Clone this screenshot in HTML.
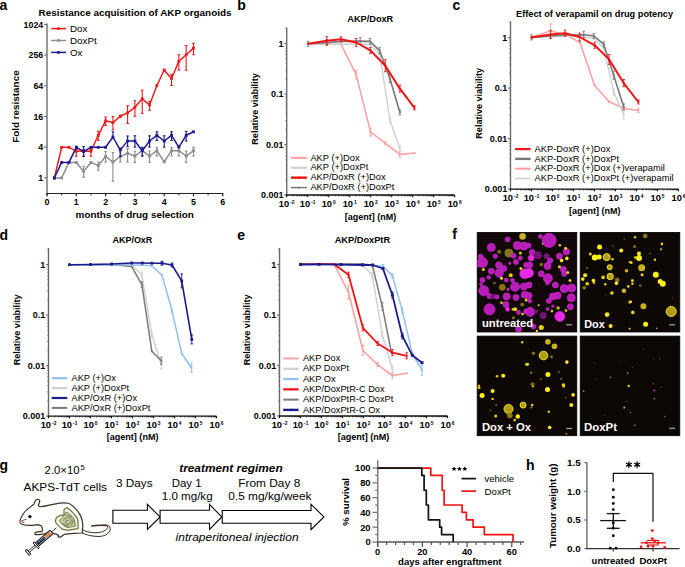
<!DOCTYPE html>
<html><head><meta charset="utf-8"><style>
html,body{margin:0;padding:0;background:#fff;width:685px;height:567px;overflow:hidden}
svg{display:block}
</style></head><body>
<svg width="685" height="567" viewBox="0 0 685 567">
<text x="-0.6" y="10.2" font-family="Liberation Sans, sans-serif" font-size="14" font-weight="bold" font-style="normal" text-anchor="start" fill="#000" >a</text>
<text x="38.5" y="15.8" font-family="Liberation Sans, sans-serif" font-size="8.3" font-weight="bold" font-style="normal" text-anchor="start" fill="#000" textLength="193" lengthAdjust="spacingAndGlyphs" >Resistance acquisition of AKP organoids</text>
<line x1="47" y1="23.5" x2="47" y2="195.8" stroke="#6e6e6e" stroke-width="1.4" />
<line x1="46.3" y1="193.5" x2="223.3" y2="193.5" stroke="#222" stroke-width="1.2" />
<line x1="44.2" y1="24.4" x2="47" y2="24.4" stroke="#6e6e6e" stroke-width="1.2" />
<text x="43.2" y="27.5" font-family="Liberation Sans, sans-serif" font-size="8.8" font-weight="bold" font-style="normal" text-anchor="end" fill="#000" >1024</text>
<line x1="44.2" y1="55.08" x2="47" y2="55.08" stroke="#6e6e6e" stroke-width="1.2" />
<text x="43.2" y="58.18" font-family="Liberation Sans, sans-serif" font-size="8.8" font-weight="bold" font-style="normal" text-anchor="end" fill="#000" >256</text>
<line x1="44.2" y1="85.76" x2="47" y2="85.76" stroke="#6e6e6e" stroke-width="1.2" />
<text x="43.2" y="88.86" font-family="Liberation Sans, sans-serif" font-size="8.8" font-weight="bold" font-style="normal" text-anchor="end" fill="#000" >64</text>
<line x1="44.2" y1="116.44" x2="47" y2="116.44" stroke="#6e6e6e" stroke-width="1.2" />
<text x="43.2" y="119.54" font-family="Liberation Sans, sans-serif" font-size="8.8" font-weight="bold" font-style="normal" text-anchor="end" fill="#000" >16</text>
<line x1="44.2" y1="147.12" x2="47" y2="147.12" stroke="#6e6e6e" stroke-width="1.2" />
<text x="43.2" y="150.22" font-family="Liberation Sans, sans-serif" font-size="8.8" font-weight="bold" font-style="normal" text-anchor="end" fill="#000" >4</text>
<line x1="44.2" y1="177.8" x2="47" y2="177.8" stroke="#6e6e6e" stroke-width="1.2" />
<text x="43.2" y="180.9" font-family="Liberation Sans, sans-serif" font-size="8.8" font-weight="bold" font-style="normal" text-anchor="end" fill="#000" >1</text>
<line x1="47" y1="193.5" x2="47" y2="196.3" stroke="#222" stroke-width="1.2" />
<text x="47" y="204.5" font-family="Liberation Sans, sans-serif" font-size="8.9" font-weight="bold" font-style="normal" text-anchor="middle" fill="#000" >0</text>
<line x1="61.65" y1="193.5" x2="61.65" y2="195.3" stroke="#222" stroke-width="1" />
<line x1="76.3" y1="193.5" x2="76.3" y2="196.3" stroke="#222" stroke-width="1.2" />
<text x="76.3" y="204.5" font-family="Liberation Sans, sans-serif" font-size="8.9" font-weight="bold" font-style="normal" text-anchor="middle" fill="#000" >1</text>
<line x1="90.95" y1="193.5" x2="90.95" y2="195.3" stroke="#222" stroke-width="1" />
<line x1="105.6" y1="193.5" x2="105.6" y2="196.3" stroke="#222" stroke-width="1.2" />
<text x="105.6" y="204.5" font-family="Liberation Sans, sans-serif" font-size="8.9" font-weight="bold" font-style="normal" text-anchor="middle" fill="#000" >2</text>
<line x1="120.25" y1="193.5" x2="120.25" y2="195.3" stroke="#222" stroke-width="1" />
<line x1="134.9" y1="193.5" x2="134.9" y2="196.3" stroke="#222" stroke-width="1.2" />
<text x="134.9" y="204.5" font-family="Liberation Sans, sans-serif" font-size="8.9" font-weight="bold" font-style="normal" text-anchor="middle" fill="#000" >3</text>
<line x1="149.55" y1="193.5" x2="149.55" y2="195.3" stroke="#222" stroke-width="1" />
<line x1="164.2" y1="193.5" x2="164.2" y2="196.3" stroke="#222" stroke-width="1.2" />
<text x="164.2" y="204.5" font-family="Liberation Sans, sans-serif" font-size="8.9" font-weight="bold" font-style="normal" text-anchor="middle" fill="#000" >4</text>
<line x1="178.85" y1="193.5" x2="178.85" y2="195.3" stroke="#222" stroke-width="1" />
<line x1="193.5" y1="193.5" x2="193.5" y2="196.3" stroke="#222" stroke-width="1.2" />
<text x="193.5" y="204.5" font-family="Liberation Sans, sans-serif" font-size="8.9" font-weight="bold" font-style="normal" text-anchor="middle" fill="#000" >5</text>
<line x1="208.15" y1="193.5" x2="208.15" y2="195.3" stroke="#222" stroke-width="1" />
<line x1="222.8" y1="193.5" x2="222.8" y2="196.3" stroke="#222" stroke-width="1.2" />
<text x="222.8" y="204.5" font-family="Liberation Sans, sans-serif" font-size="8.9" font-weight="bold" font-style="normal" text-anchor="middle" fill="#000" >6</text>
<text x="134.7" y="217.6" font-family="Liberation Sans, sans-serif" font-size="9.3" font-weight="bold" font-style="normal" text-anchor="middle" fill="#000" textLength="118.2" lengthAdjust="spacingAndGlyphs" >months of drug selection</text>
<text x="0" y="0" font-family="Liberation Sans, sans-serif" font-size="9.3" font-weight="bold" font-style="normal" text-anchor="middle" fill="#000" textLength="72.5" lengthAdjust="spacingAndGlyphs" transform="translate(19.3,106.6) rotate(-90)">Fold resistance</text>
<polyline points="54.33,178 61.65,178 68.97,162.4 76.3,162.4 83.62,171.3 90.95,162.4 98.28,165.6 105.6,156.5 112.92,162.1 120.25,156.5 127.58,153.4 134.9,156 142.23,150.7 149.55,156 156.88,150.7 164.2,161.9 171.53,150.7 178.85,150.7 186.18,156 193.5,150.7" fill="none" stroke="#8c8c8c" stroke-width="1.5" stroke-linejoin="round" />
<rect x="52.93" y="176.6" width="2.8" height="2.8" fill="#8c8c8c" />
<rect x="60.25" y="176.6" width="2.8" height="2.8" fill="#8c8c8c" />
<rect x="67.57" y="161" width="2.8" height="2.8" fill="#8c8c8c" />
<rect x="74.9" y="161" width="2.8" height="2.8" fill="#8c8c8c" />
<line x1="83.62" y1="166.3" x2="83.62" y2="177.3" stroke="#8c8c8c" stroke-width="1.1" />
<line x1="82.33" y1="166.3" x2="84.92" y2="166.3" stroke="#8c8c8c" stroke-width="1.1" />
<line x1="82.33" y1="177.3" x2="84.92" y2="177.3" stroke="#8c8c8c" stroke-width="1.1" />
<rect x="82.22" y="169.9" width="2.8" height="2.8" fill="#8c8c8c" />
<rect x="89.55" y="161" width="2.8" height="2.8" fill="#8c8c8c" />
<line x1="98.28" y1="162.1" x2="98.28" y2="170.1" stroke="#8c8c8c" stroke-width="1.1" />
<line x1="96.98" y1="162.1" x2="99.58" y2="162.1" stroke="#8c8c8c" stroke-width="1.1" />
<line x1="96.98" y1="170.1" x2="99.58" y2="170.1" stroke="#8c8c8c" stroke-width="1.1" />
<rect x="96.88" y="164.2" width="2.8" height="2.8" fill="#8c8c8c" />
<line x1="105.6" y1="151.5" x2="105.6" y2="162.1" stroke="#8c8c8c" stroke-width="1.1" />
<line x1="104.3" y1="151.5" x2="106.9" y2="151.5" stroke="#8c8c8c" stroke-width="1.1" />
<line x1="104.3" y1="162.1" x2="106.9" y2="162.1" stroke="#8c8c8c" stroke-width="1.1" />
<rect x="104.2" y="155.1" width="2.8" height="2.8" fill="#8c8c8c" />
<line x1="112.92" y1="152.5" x2="112.92" y2="181.1" stroke="#8c8c8c" stroke-width="1.1" />
<line x1="111.62" y1="152.5" x2="114.22" y2="152.5" stroke="#8c8c8c" stroke-width="1.1" />
<line x1="111.62" y1="181.1" x2="114.22" y2="181.1" stroke="#8c8c8c" stroke-width="1.1" />
<rect x="111.52" y="160.7" width="2.8" height="2.8" fill="#8c8c8c" />
<line x1="120.25" y1="152.9" x2="120.25" y2="162.1" stroke="#8c8c8c" stroke-width="1.1" />
<line x1="118.95" y1="152.9" x2="121.55" y2="152.9" stroke="#8c8c8c" stroke-width="1.1" />
<line x1="118.95" y1="162.1" x2="121.55" y2="162.1" stroke="#8c8c8c" stroke-width="1.1" />
<rect x="118.85" y="155.1" width="2.8" height="2.8" fill="#8c8c8c" />
<line x1="127.58" y1="148.7" x2="127.58" y2="162.1" stroke="#8c8c8c" stroke-width="1.1" />
<line x1="126.28" y1="148.7" x2="128.88" y2="148.7" stroke="#8c8c8c" stroke-width="1.1" />
<line x1="126.28" y1="162.1" x2="128.88" y2="162.1" stroke="#8c8c8c" stroke-width="1.1" />
<rect x="126.17" y="152" width="2.8" height="2.8" fill="#8c8c8c" />
<line x1="134.9" y1="151.2" x2="134.9" y2="162.4" stroke="#8c8c8c" stroke-width="1.1" />
<line x1="133.6" y1="151.2" x2="136.2" y2="151.2" stroke="#8c8c8c" stroke-width="1.1" />
<line x1="133.6" y1="162.4" x2="136.2" y2="162.4" stroke="#8c8c8c" stroke-width="1.1" />
<rect x="133.5" y="154.6" width="2.8" height="2.8" fill="#8c8c8c" />
<line x1="142.23" y1="147.4" x2="142.23" y2="156" stroke="#8c8c8c" stroke-width="1.1" />
<line x1="140.93" y1="147.4" x2="143.53" y2="147.4" stroke="#8c8c8c" stroke-width="1.1" />
<line x1="140.93" y1="156" x2="143.53" y2="156" stroke="#8c8c8c" stroke-width="1.1" />
<rect x="140.83" y="149.3" width="2.8" height="2.8" fill="#8c8c8c" />
<line x1="149.55" y1="151.2" x2="149.55" y2="162.4" stroke="#8c8c8c" stroke-width="1.1" />
<line x1="148.25" y1="151.2" x2="150.85" y2="151.2" stroke="#8c8c8c" stroke-width="1.1" />
<line x1="148.25" y1="162.4" x2="150.85" y2="162.4" stroke="#8c8c8c" stroke-width="1.1" />
<rect x="148.15" y="154.6" width="2.8" height="2.8" fill="#8c8c8c" />
<line x1="156.88" y1="147.4" x2="156.88" y2="156" stroke="#8c8c8c" stroke-width="1.1" />
<line x1="155.57" y1="147.4" x2="158.18" y2="147.4" stroke="#8c8c8c" stroke-width="1.1" />
<line x1="155.57" y1="156" x2="158.18" y2="156" stroke="#8c8c8c" stroke-width="1.1" />
<rect x="155.47" y="149.3" width="2.8" height="2.8" fill="#8c8c8c" />
<rect x="162.8" y="160.5" width="2.8" height="2.8" fill="#8c8c8c" />
<line x1="171.53" y1="147.4" x2="171.53" y2="156" stroke="#8c8c8c" stroke-width="1.1" />
<line x1="170.22" y1="147.4" x2="172.83" y2="147.4" stroke="#8c8c8c" stroke-width="1.1" />
<line x1="170.22" y1="156" x2="172.83" y2="156" stroke="#8c8c8c" stroke-width="1.1" />
<rect x="170.12" y="149.3" width="2.8" height="2.8" fill="#8c8c8c" />
<line x1="178.85" y1="147.4" x2="178.85" y2="156" stroke="#8c8c8c" stroke-width="1.1" />
<line x1="177.55" y1="147.4" x2="180.15" y2="147.4" stroke="#8c8c8c" stroke-width="1.1" />
<line x1="177.55" y1="156" x2="180.15" y2="156" stroke="#8c8c8c" stroke-width="1.1" />
<rect x="177.45" y="149.3" width="2.8" height="2.8" fill="#8c8c8c" />
<line x1="186.18" y1="151.2" x2="186.18" y2="162.4" stroke="#8c8c8c" stroke-width="1.1" />
<line x1="184.88" y1="151.2" x2="187.48" y2="151.2" stroke="#8c8c8c" stroke-width="1.1" />
<line x1="184.88" y1="162.4" x2="187.48" y2="162.4" stroke="#8c8c8c" stroke-width="1.1" />
<rect x="184.78" y="154.6" width="2.8" height="2.8" fill="#8c8c8c" />
<line x1="193.5" y1="147.4" x2="193.5" y2="156" stroke="#8c8c8c" stroke-width="1.1" />
<line x1="192.2" y1="147.4" x2="194.8" y2="147.4" stroke="#8c8c8c" stroke-width="1.1" />
<line x1="192.2" y1="156" x2="194.8" y2="156" stroke="#8c8c8c" stroke-width="1.1" />
<rect x="192.1" y="149.3" width="2.8" height="2.8" fill="#8c8c8c" />
<polyline points="54.33,178 61.65,147.3 68.97,147.3 76.3,151.2 83.62,151.2 90.95,151.2 98.28,135.3 105.6,120.8 112.92,122.6 120.25,116.2 127.58,112.8 134.9,107.3 142.23,98.8 149.55,104.9 156.88,85.5 164.2,70.2 171.53,78.5 178.85,61.4 186.18,54.7 193.5,48.1" fill="none" stroke="#ee1c1c" stroke-width="1.5" stroke-linejoin="round" />
<rect x="52.93" y="176.6" width="2.8" height="2.8" fill="#ee1c1c" />
<rect x="60.25" y="145.9" width="2.8" height="2.8" fill="#ee1c1c" />
<rect x="67.57" y="145.9" width="2.8" height="2.8" fill="#ee1c1c" />
<line x1="76.3" y1="149.5" x2="76.3" y2="156.2" stroke="#ee1c1c" stroke-width="1.1" />
<line x1="75" y1="149.5" x2="77.6" y2="149.5" stroke="#ee1c1c" stroke-width="1.1" />
<line x1="75" y1="156.2" x2="77.6" y2="156.2" stroke="#ee1c1c" stroke-width="1.1" />
<rect x="74.9" y="149.8" width="2.8" height="2.8" fill="#ee1c1c" />
<line x1="83.62" y1="149.5" x2="83.62" y2="156.2" stroke="#ee1c1c" stroke-width="1.1" />
<line x1="82.33" y1="149.5" x2="84.92" y2="149.5" stroke="#ee1c1c" stroke-width="1.1" />
<line x1="82.33" y1="156.2" x2="84.92" y2="156.2" stroke="#ee1c1c" stroke-width="1.1" />
<rect x="82.22" y="149.8" width="2.8" height="2.8" fill="#ee1c1c" />
<line x1="90.95" y1="149.5" x2="90.95" y2="156.2" stroke="#ee1c1c" stroke-width="1.1" />
<line x1="89.65" y1="149.5" x2="92.25" y2="149.5" stroke="#ee1c1c" stroke-width="1.1" />
<line x1="89.65" y1="156.2" x2="92.25" y2="156.2" stroke="#ee1c1c" stroke-width="1.1" />
<rect x="89.55" y="149.8" width="2.8" height="2.8" fill="#ee1c1c" />
<line x1="98.28" y1="131.3" x2="98.28" y2="140.3" stroke="#ee1c1c" stroke-width="1.1" />
<line x1="96.98" y1="131.3" x2="99.58" y2="131.3" stroke="#ee1c1c" stroke-width="1.1" />
<line x1="96.98" y1="140.3" x2="99.58" y2="140.3" stroke="#ee1c1c" stroke-width="1.1" />
<rect x="96.88" y="133.9" width="2.8" height="2.8" fill="#ee1c1c" />
<line x1="105.6" y1="117" x2="105.6" y2="125.4" stroke="#ee1c1c" stroke-width="1.1" />
<line x1="104.3" y1="117" x2="106.9" y2="117" stroke="#ee1c1c" stroke-width="1.1" />
<line x1="104.3" y1="125.4" x2="106.9" y2="125.4" stroke="#ee1c1c" stroke-width="1.1" />
<rect x="104.2" y="119.4" width="2.8" height="2.8" fill="#ee1c1c" />
<line x1="112.92" y1="116.6" x2="112.92" y2="129.6" stroke="#ee1c1c" stroke-width="1.1" />
<line x1="111.62" y1="116.6" x2="114.22" y2="116.6" stroke="#ee1c1c" stroke-width="1.1" />
<line x1="111.62" y1="129.6" x2="114.22" y2="129.6" stroke="#ee1c1c" stroke-width="1.1" />
<rect x="111.52" y="121.2" width="2.8" height="2.8" fill="#ee1c1c" />
<line x1="120.25" y1="115.2" x2="120.25" y2="117.2" stroke="#ee1c1c" stroke-width="1.1" />
<line x1="118.95" y1="115.2" x2="121.55" y2="115.2" stroke="#ee1c1c" stroke-width="1.1" />
<line x1="118.95" y1="117.2" x2="121.55" y2="117.2" stroke="#ee1c1c" stroke-width="1.1" />
<rect x="118.85" y="114.8" width="2.8" height="2.8" fill="#ee1c1c" />
<line x1="127.58" y1="105.7" x2="127.58" y2="123.4" stroke="#ee1c1c" stroke-width="1.1" />
<line x1="126.28" y1="105.7" x2="128.88" y2="105.7" stroke="#ee1c1c" stroke-width="1.1" />
<line x1="126.28" y1="123.4" x2="128.88" y2="123.4" stroke="#ee1c1c" stroke-width="1.1" />
<rect x="126.17" y="111.4" width="2.8" height="2.8" fill="#ee1c1c" />
<line x1="134.9" y1="100.8" x2="134.9" y2="116.3" stroke="#ee1c1c" stroke-width="1.1" />
<line x1="133.6" y1="100.8" x2="136.2" y2="100.8" stroke="#ee1c1c" stroke-width="1.1" />
<line x1="133.6" y1="116.3" x2="136.2" y2="116.3" stroke="#ee1c1c" stroke-width="1.1" />
<rect x="133.5" y="105.9" width="2.8" height="2.8" fill="#ee1c1c" />
<line x1="142.23" y1="90.3" x2="142.23" y2="113.3" stroke="#ee1c1c" stroke-width="1.1" />
<line x1="140.93" y1="90.3" x2="143.53" y2="90.3" stroke="#ee1c1c" stroke-width="1.1" />
<line x1="140.93" y1="113.3" x2="143.53" y2="113.3" stroke="#ee1c1c" stroke-width="1.1" />
<rect x="140.83" y="97.4" width="2.8" height="2.8" fill="#ee1c1c" />
<line x1="149.55" y1="101.4" x2="149.55" y2="110.3" stroke="#ee1c1c" stroke-width="1.1" />
<line x1="148.25" y1="101.4" x2="150.85" y2="101.4" stroke="#ee1c1c" stroke-width="1.1" />
<line x1="148.25" y1="110.3" x2="150.85" y2="110.3" stroke="#ee1c1c" stroke-width="1.1" />
<rect x="148.15" y="103.5" width="2.8" height="2.8" fill="#ee1c1c" />
<rect x="155.47" y="84.1" width="2.8" height="2.8" fill="#ee1c1c" />
<line x1="164.2" y1="69.2" x2="164.2" y2="71.2" stroke="#ee1c1c" stroke-width="1.1" />
<line x1="162.9" y1="69.2" x2="165.5" y2="69.2" stroke="#ee1c1c" stroke-width="1.1" />
<line x1="162.9" y1="71.2" x2="165.5" y2="71.2" stroke="#ee1c1c" stroke-width="1.1" />
<rect x="162.8" y="68.8" width="2.8" height="2.8" fill="#ee1c1c" />
<line x1="171.53" y1="74.4" x2="171.53" y2="85.5" stroke="#ee1c1c" stroke-width="1.1" />
<line x1="170.22" y1="74.4" x2="172.83" y2="74.4" stroke="#ee1c1c" stroke-width="1.1" />
<line x1="170.22" y1="85.5" x2="172.83" y2="85.5" stroke="#ee1c1c" stroke-width="1.1" />
<rect x="170.12" y="77.1" width="2.8" height="2.8" fill="#ee1c1c" />
<line x1="178.85" y1="54.7" x2="178.85" y2="70.2" stroke="#ee1c1c" stroke-width="1.1" />
<line x1="177.55" y1="54.7" x2="180.15" y2="54.7" stroke="#ee1c1c" stroke-width="1.1" />
<line x1="177.55" y1="70.2" x2="180.15" y2="70.2" stroke="#ee1c1c" stroke-width="1.1" />
<rect x="177.45" y="60" width="2.8" height="2.8" fill="#ee1c1c" />
<line x1="186.18" y1="45.5" x2="186.18" y2="70.2" stroke="#ee1c1c" stroke-width="1.1" />
<line x1="184.88" y1="45.5" x2="187.48" y2="45.5" stroke="#ee1c1c" stroke-width="1.1" />
<line x1="184.88" y1="70.2" x2="187.48" y2="70.2" stroke="#ee1c1c" stroke-width="1.1" />
<rect x="184.78" y="53.3" width="2.8" height="2.8" fill="#ee1c1c" />
<line x1="193.5" y1="43.2" x2="193.5" y2="54.7" stroke="#ee1c1c" stroke-width="1.1" />
<line x1="192.2" y1="43.2" x2="194.8" y2="43.2" stroke="#ee1c1c" stroke-width="1.1" />
<line x1="192.2" y1="54.7" x2="194.8" y2="54.7" stroke="#ee1c1c" stroke-width="1.1" />
<rect x="192.1" y="46.7" width="2.8" height="2.8" fill="#ee1c1c" />
<polyline points="54.33,178 61.65,162.4 68.97,162.4 76.3,147.3 83.62,151.5 90.95,147.3 98.28,147.3 105.6,147.3 112.92,137 120.25,150.1 127.58,140.9 134.9,141 142.23,150.7 149.55,141 156.88,135.3 164.2,141 171.53,135.3 178.85,147.1 186.18,135.3 193.5,131.8" fill="none" stroke="#1b1b8e" stroke-width="1.5" stroke-linejoin="round" />
<rect x="52.93" y="176.6" width="2.8" height="2.8" fill="#1b1b8e" />
<rect x="60.25" y="161" width="2.8" height="2.8" fill="#1b1b8e" />
<rect x="67.57" y="161" width="2.8" height="2.8" fill="#1b1b8e" />
<line x1="76.3" y1="146.3" x2="76.3" y2="148.3" stroke="#1b1b8e" stroke-width="1.1" />
<line x1="75" y1="146.3" x2="77.6" y2="146.3" stroke="#1b1b8e" stroke-width="1.1" />
<line x1="75" y1="148.3" x2="77.6" y2="148.3" stroke="#1b1b8e" stroke-width="1.1" />
<rect x="74.9" y="145.9" width="2.8" height="2.8" fill="#1b1b8e" />
<line x1="83.62" y1="146.6" x2="83.62" y2="156.5" stroke="#1b1b8e" stroke-width="1.1" />
<line x1="82.33" y1="146.6" x2="84.92" y2="146.6" stroke="#1b1b8e" stroke-width="1.1" />
<line x1="82.33" y1="156.5" x2="84.92" y2="156.5" stroke="#1b1b8e" stroke-width="1.1" />
<rect x="82.22" y="150.1" width="2.8" height="2.8" fill="#1b1b8e" />
<rect x="89.55" y="145.9" width="2.8" height="2.8" fill="#1b1b8e" />
<rect x="96.88" y="145.9" width="2.8" height="2.8" fill="#1b1b8e" />
<rect x="104.2" y="145.9" width="2.8" height="2.8" fill="#1b1b8e" />
<line x1="112.92" y1="131.8" x2="112.92" y2="138.5" stroke="#1b1b8e" stroke-width="1.1" />
<line x1="111.62" y1="131.8" x2="114.22" y2="131.8" stroke="#1b1b8e" stroke-width="1.1" />
<line x1="111.62" y1="138.5" x2="114.22" y2="138.5" stroke="#1b1b8e" stroke-width="1.1" />
<rect x="111.52" y="135.6" width="2.8" height="2.8" fill="#1b1b8e" />
<line x1="120.25" y1="148.1" x2="120.25" y2="156.5" stroke="#1b1b8e" stroke-width="1.1" />
<line x1="118.95" y1="148.1" x2="121.55" y2="148.1" stroke="#1b1b8e" stroke-width="1.1" />
<line x1="118.95" y1="156.5" x2="121.55" y2="156.5" stroke="#1b1b8e" stroke-width="1.1" />
<rect x="118.85" y="148.7" width="2.8" height="2.8" fill="#1b1b8e" />
<line x1="127.58" y1="136" x2="127.58" y2="146.6" stroke="#1b1b8e" stroke-width="1.1" />
<line x1="126.28" y1="136" x2="128.88" y2="136" stroke="#1b1b8e" stroke-width="1.1" />
<line x1="126.28" y1="146.6" x2="128.88" y2="146.6" stroke="#1b1b8e" stroke-width="1.1" />
<rect x="126.17" y="139.5" width="2.8" height="2.8" fill="#1b1b8e" />
<line x1="134.9" y1="135.8" x2="134.9" y2="147.1" stroke="#1b1b8e" stroke-width="1.1" />
<line x1="133.6" y1="135.8" x2="136.2" y2="135.8" stroke="#1b1b8e" stroke-width="1.1" />
<line x1="133.6" y1="147.1" x2="136.2" y2="147.1" stroke="#1b1b8e" stroke-width="1.1" />
<rect x="133.5" y="139.6" width="2.8" height="2.8" fill="#1b1b8e" />
<line x1="142.23" y1="147.4" x2="142.23" y2="156" stroke="#1b1b8e" stroke-width="1.1" />
<line x1="140.93" y1="147.4" x2="143.53" y2="147.4" stroke="#1b1b8e" stroke-width="1.1" />
<line x1="140.93" y1="156" x2="143.53" y2="156" stroke="#1b1b8e" stroke-width="1.1" />
<rect x="140.83" y="149.3" width="2.8" height="2.8" fill="#1b1b8e" />
<line x1="149.55" y1="135.8" x2="149.55" y2="147.1" stroke="#1b1b8e" stroke-width="1.1" />
<line x1="148.25" y1="135.8" x2="150.85" y2="135.8" stroke="#1b1b8e" stroke-width="1.1" />
<line x1="148.25" y1="147.1" x2="150.85" y2="147.1" stroke="#1b1b8e" stroke-width="1.1" />
<rect x="148.15" y="139.6" width="2.8" height="2.8" fill="#1b1b8e" />
<line x1="156.88" y1="131.8" x2="156.88" y2="140.4" stroke="#1b1b8e" stroke-width="1.1" />
<line x1="155.57" y1="131.8" x2="158.18" y2="131.8" stroke="#1b1b8e" stroke-width="1.1" />
<line x1="155.57" y1="140.4" x2="158.18" y2="140.4" stroke="#1b1b8e" stroke-width="1.1" />
<rect x="155.47" y="133.9" width="2.8" height="2.8" fill="#1b1b8e" />
<line x1="164.2" y1="135.8" x2="164.2" y2="147.1" stroke="#1b1b8e" stroke-width="1.1" />
<line x1="162.9" y1="135.8" x2="165.5" y2="135.8" stroke="#1b1b8e" stroke-width="1.1" />
<line x1="162.9" y1="147.1" x2="165.5" y2="147.1" stroke="#1b1b8e" stroke-width="1.1" />
<rect x="162.8" y="139.6" width="2.8" height="2.8" fill="#1b1b8e" />
<line x1="171.53" y1="131.8" x2="171.53" y2="140.4" stroke="#1b1b8e" stroke-width="1.1" />
<line x1="170.22" y1="131.8" x2="172.83" y2="131.8" stroke="#1b1b8e" stroke-width="1.1" />
<line x1="170.22" y1="140.4" x2="172.83" y2="140.4" stroke="#1b1b8e" stroke-width="1.1" />
<rect x="170.12" y="133.9" width="2.8" height="2.8" fill="#1b1b8e" />
<rect x="177.45" y="145.7" width="2.8" height="2.8" fill="#1b1b8e" />
<line x1="186.18" y1="131.4" x2="186.18" y2="141" stroke="#1b1b8e" stroke-width="1.1" />
<line x1="184.88" y1="131.4" x2="187.48" y2="131.4" stroke="#1b1b8e" stroke-width="1.1" />
<line x1="184.88" y1="141" x2="187.48" y2="141" stroke="#1b1b8e" stroke-width="1.1" />
<rect x="184.78" y="133.9" width="2.8" height="2.8" fill="#1b1b8e" />
<rect x="192.1" y="130.4" width="2.8" height="2.8" fill="#1b1b8e" />
<line x1="51.2" y1="28.6" x2="66" y2="28.6" stroke="#ee1c1c" stroke-width="1.5" />
<rect x="57.2" y="27.3" width="2.6" height="2.6" fill="#ee1c1c" />
<text x="70" y="32.1" font-family="Liberation Sans, sans-serif" font-size="9.8" font-weight="normal" font-style="normal" text-anchor="start" fill="#000" >Dox</text>
<line x1="51.2" y1="40.5" x2="66" y2="40.5" stroke="#8c8c8c" stroke-width="1.5" />
<rect x="57.2" y="39.2" width="2.6" height="2.6" fill="#8c8c8c" />
<text x="70" y="44" font-family="Liberation Sans, sans-serif" font-size="9.8" font-weight="normal" font-style="normal" text-anchor="start" fill="#000" >DoxPt</text>
<line x1="51.2" y1="52.4" x2="66" y2="52.4" stroke="#1b1b8e" stroke-width="1.5" />
<rect x="57.2" y="51.1" width="2.6" height="2.6" fill="#1b1b8e" />
<text x="70" y="55.9" font-family="Liberation Sans, sans-serif" font-size="9.8" font-weight="normal" font-style="normal" text-anchor="start" fill="#000" >Ox</text>
<text x="237.2" y="10.3" font-family="Liberation Sans, sans-serif" font-size="14" font-weight="bold" font-style="normal" text-anchor="start" fill="#000" >b</text>
<text x="370.3" y="22.3" font-family="Liberation Sans, sans-serif" font-size="8.4" font-weight="bold" font-style="normal" text-anchor="middle" fill="#000" textLength="45.9" lengthAdjust="spacingAndGlyphs" >AKP/DoxR</text>
<line x1="286.7" y1="27.6" x2="286.7" y2="195.6" stroke="#6a6a6a" stroke-width="1.4" />
<line x1="284.3" y1="43.5" x2="286.7" y2="43.5" stroke="#6a6a6a" stroke-width="1.2" />
<text x="283.5" y="46.7" font-family="Liberation Sans, sans-serif" font-size="9" font-weight="bold" font-style="normal" text-anchor="end" fill="#000" >1</text>
<line x1="284.3" y1="94" x2="286.7" y2="94" stroke="#6a6a6a" stroke-width="1.2" />
<text x="283.5" y="97.2" font-family="Liberation Sans, sans-serif" font-size="9" font-weight="bold" font-style="normal" text-anchor="end" fill="#000" >0.1</text>
<line x1="284.3" y1="144.5" x2="286.7" y2="144.5" stroke="#6a6a6a" stroke-width="1.2" />
<text x="283.5" y="147.7" font-family="Liberation Sans, sans-serif" font-size="9" font-weight="bold" font-style="normal" text-anchor="end" fill="#000" >0.01</text>
<line x1="284.3" y1="195" x2="286.7" y2="195" stroke="#6a6a6a" stroke-width="1.2" />
<text x="283.5" y="198.2" font-family="Liberation Sans, sans-serif" font-size="9" font-weight="bold" font-style="normal" text-anchor="end" fill="#000" >0.001</text>
<line x1="285.4" y1="28.3" x2="286.7" y2="28.3" stroke="#6a6a6a" stroke-width="0.8" />
<line x1="285.4" y1="78.8" x2="286.7" y2="78.8" stroke="#6a6a6a" stroke-width="0.8" />
<line x1="285.4" y1="69.91" x2="286.7" y2="69.91" stroke="#6a6a6a" stroke-width="0.8" />
<line x1="285.4" y1="63.6" x2="286.7" y2="63.6" stroke="#6a6a6a" stroke-width="0.8" />
<line x1="285.4" y1="58.7" x2="286.7" y2="58.7" stroke="#6a6a6a" stroke-width="0.8" />
<line x1="285.4" y1="54.7" x2="286.7" y2="54.7" stroke="#6a6a6a" stroke-width="0.8" />
<line x1="285.4" y1="51.32" x2="286.7" y2="51.32" stroke="#6a6a6a" stroke-width="0.8" />
<line x1="285.4" y1="48.39" x2="286.7" y2="48.39" stroke="#6a6a6a" stroke-width="0.8" />
<line x1="285.4" y1="45.81" x2="286.7" y2="45.81" stroke="#6a6a6a" stroke-width="0.8" />
<line x1="285.4" y1="129.3" x2="286.7" y2="129.3" stroke="#6a6a6a" stroke-width="0.8" />
<line x1="285.4" y1="120.41" x2="286.7" y2="120.41" stroke="#6a6a6a" stroke-width="0.8" />
<line x1="285.4" y1="114.1" x2="286.7" y2="114.1" stroke="#6a6a6a" stroke-width="0.8" />
<line x1="285.4" y1="109.2" x2="286.7" y2="109.2" stroke="#6a6a6a" stroke-width="0.8" />
<line x1="285.4" y1="105.2" x2="286.7" y2="105.2" stroke="#6a6a6a" stroke-width="0.8" />
<line x1="285.4" y1="101.82" x2="286.7" y2="101.82" stroke="#6a6a6a" stroke-width="0.8" />
<line x1="285.4" y1="98.89" x2="286.7" y2="98.89" stroke="#6a6a6a" stroke-width="0.8" />
<line x1="285.4" y1="96.31" x2="286.7" y2="96.31" stroke="#6a6a6a" stroke-width="0.8" />
<line x1="285.4" y1="179.8" x2="286.7" y2="179.8" stroke="#6a6a6a" stroke-width="0.8" />
<line x1="285.4" y1="170.91" x2="286.7" y2="170.91" stroke="#6a6a6a" stroke-width="0.8" />
<line x1="285.4" y1="164.6" x2="286.7" y2="164.6" stroke="#6a6a6a" stroke-width="0.8" />
<line x1="285.4" y1="159.7" x2="286.7" y2="159.7" stroke="#6a6a6a" stroke-width="0.8" />
<line x1="285.4" y1="155.7" x2="286.7" y2="155.7" stroke="#6a6a6a" stroke-width="0.8" />
<line x1="285.4" y1="152.32" x2="286.7" y2="152.32" stroke="#6a6a6a" stroke-width="0.8" />
<line x1="285.4" y1="149.39" x2="286.7" y2="149.39" stroke="#6a6a6a" stroke-width="0.8" />
<line x1="285.4" y1="146.81" x2="286.7" y2="146.81" stroke="#6a6a6a" stroke-width="0.8" />
<line x1="286.1" y1="195" x2="454.7" y2="195" stroke="#111" stroke-width="1.3" />
<line x1="286.7" y1="195" x2="286.7" y2="197.2" stroke="#111" stroke-width="1.1" />
<text x="278.87" y="207.2" font-family="Liberation Sans, sans-serif" font-size="8.8" font-weight="bold" font-style="normal" text-anchor="start" fill="#000" textLength="10.4" lengthAdjust="spacingAndGlyphs" >10</text>
<text x="290.27" y="203.9" font-family="Liberation Sans, sans-serif" font-size="4.8" font-weight="bold" font-style="normal" text-anchor="start" fill="#000" >-2</text>
<line x1="293.02" y1="195" x2="293.02" y2="196.3" stroke="#111" stroke-width="0.8" />
<line x1="296.72" y1="195" x2="296.72" y2="196.3" stroke="#111" stroke-width="0.8" />
<line x1="299.34" y1="195" x2="299.34" y2="196.3" stroke="#111" stroke-width="0.8" />
<line x1="301.38" y1="195" x2="301.38" y2="196.3" stroke="#111" stroke-width="0.8" />
<line x1="303.04" y1="195" x2="303.04" y2="196.3" stroke="#111" stroke-width="0.8" />
<line x1="304.45" y1="195" x2="304.45" y2="196.3" stroke="#111" stroke-width="0.8" />
<line x1="305.66" y1="195" x2="305.66" y2="196.3" stroke="#111" stroke-width="0.8" />
<line x1="306.74" y1="195" x2="306.74" y2="196.3" stroke="#111" stroke-width="0.8" />
<line x1="307.7" y1="195" x2="307.7" y2="197.2" stroke="#111" stroke-width="1.1" />
<text x="299.87" y="207.2" font-family="Liberation Sans, sans-serif" font-size="8.8" font-weight="bold" font-style="normal" text-anchor="start" fill="#000" textLength="10.4" lengthAdjust="spacingAndGlyphs" >10</text>
<text x="311.27" y="203.9" font-family="Liberation Sans, sans-serif" font-size="4.8" font-weight="bold" font-style="normal" text-anchor="start" fill="#000" >-1</text>
<line x1="314.02" y1="195" x2="314.02" y2="196.3" stroke="#111" stroke-width="0.8" />
<line x1="317.72" y1="195" x2="317.72" y2="196.3" stroke="#111" stroke-width="0.8" />
<line x1="320.34" y1="195" x2="320.34" y2="196.3" stroke="#111" stroke-width="0.8" />
<line x1="322.38" y1="195" x2="322.38" y2="196.3" stroke="#111" stroke-width="0.8" />
<line x1="324.04" y1="195" x2="324.04" y2="196.3" stroke="#111" stroke-width="0.8" />
<line x1="325.45" y1="195" x2="325.45" y2="196.3" stroke="#111" stroke-width="0.8" />
<line x1="326.66" y1="195" x2="326.66" y2="196.3" stroke="#111" stroke-width="0.8" />
<line x1="327.74" y1="195" x2="327.74" y2="196.3" stroke="#111" stroke-width="0.8" />
<line x1="328.7" y1="195" x2="328.7" y2="197.2" stroke="#111" stroke-width="1.1" />
<text x="321.67" y="207.2" font-family="Liberation Sans, sans-serif" font-size="8.8" font-weight="bold" font-style="normal" text-anchor="start" fill="#000" textLength="10.4" lengthAdjust="spacingAndGlyphs" >10</text>
<text x="333.07" y="203.9" font-family="Liberation Sans, sans-serif" font-size="4.8" font-weight="bold" font-style="normal" text-anchor="start" fill="#000" >0</text>
<line x1="335.02" y1="195" x2="335.02" y2="196.3" stroke="#111" stroke-width="0.8" />
<line x1="338.72" y1="195" x2="338.72" y2="196.3" stroke="#111" stroke-width="0.8" />
<line x1="341.34" y1="195" x2="341.34" y2="196.3" stroke="#111" stroke-width="0.8" />
<line x1="343.38" y1="195" x2="343.38" y2="196.3" stroke="#111" stroke-width="0.8" />
<line x1="345.04" y1="195" x2="345.04" y2="196.3" stroke="#111" stroke-width="0.8" />
<line x1="346.45" y1="195" x2="346.45" y2="196.3" stroke="#111" stroke-width="0.8" />
<line x1="347.66" y1="195" x2="347.66" y2="196.3" stroke="#111" stroke-width="0.8" />
<line x1="348.74" y1="195" x2="348.74" y2="196.3" stroke="#111" stroke-width="0.8" />
<line x1="349.7" y1="195" x2="349.7" y2="197.2" stroke="#111" stroke-width="1.1" />
<text x="342.67" y="207.2" font-family="Liberation Sans, sans-serif" font-size="8.8" font-weight="bold" font-style="normal" text-anchor="start" fill="#000" textLength="10.4" lengthAdjust="spacingAndGlyphs" >10</text>
<text x="354.07" y="203.9" font-family="Liberation Sans, sans-serif" font-size="4.8" font-weight="bold" font-style="normal" text-anchor="start" fill="#000" >1</text>
<line x1="356.02" y1="195" x2="356.02" y2="196.3" stroke="#111" stroke-width="0.8" />
<line x1="359.72" y1="195" x2="359.72" y2="196.3" stroke="#111" stroke-width="0.8" />
<line x1="362.34" y1="195" x2="362.34" y2="196.3" stroke="#111" stroke-width="0.8" />
<line x1="364.38" y1="195" x2="364.38" y2="196.3" stroke="#111" stroke-width="0.8" />
<line x1="366.04" y1="195" x2="366.04" y2="196.3" stroke="#111" stroke-width="0.8" />
<line x1="367.45" y1="195" x2="367.45" y2="196.3" stroke="#111" stroke-width="0.8" />
<line x1="368.66" y1="195" x2="368.66" y2="196.3" stroke="#111" stroke-width="0.8" />
<line x1="369.74" y1="195" x2="369.74" y2="196.3" stroke="#111" stroke-width="0.8" />
<line x1="370.7" y1="195" x2="370.7" y2="197.2" stroke="#111" stroke-width="1.1" />
<text x="363.67" y="207.2" font-family="Liberation Sans, sans-serif" font-size="8.8" font-weight="bold" font-style="normal" text-anchor="start" fill="#000" textLength="10.4" lengthAdjust="spacingAndGlyphs" >10</text>
<text x="375.07" y="203.9" font-family="Liberation Sans, sans-serif" font-size="4.8" font-weight="bold" font-style="normal" text-anchor="start" fill="#000" >2</text>
<line x1="377.02" y1="195" x2="377.02" y2="196.3" stroke="#111" stroke-width="0.8" />
<line x1="380.72" y1="195" x2="380.72" y2="196.3" stroke="#111" stroke-width="0.8" />
<line x1="383.34" y1="195" x2="383.34" y2="196.3" stroke="#111" stroke-width="0.8" />
<line x1="385.38" y1="195" x2="385.38" y2="196.3" stroke="#111" stroke-width="0.8" />
<line x1="387.04" y1="195" x2="387.04" y2="196.3" stroke="#111" stroke-width="0.8" />
<line x1="388.45" y1="195" x2="388.45" y2="196.3" stroke="#111" stroke-width="0.8" />
<line x1="389.66" y1="195" x2="389.66" y2="196.3" stroke="#111" stroke-width="0.8" />
<line x1="390.74" y1="195" x2="390.74" y2="196.3" stroke="#111" stroke-width="0.8" />
<line x1="391.7" y1="195" x2="391.7" y2="197.2" stroke="#111" stroke-width="1.1" />
<text x="384.67" y="207.2" font-family="Liberation Sans, sans-serif" font-size="8.8" font-weight="bold" font-style="normal" text-anchor="start" fill="#000" textLength="10.4" lengthAdjust="spacingAndGlyphs" >10</text>
<text x="396.07" y="203.9" font-family="Liberation Sans, sans-serif" font-size="4.8" font-weight="bold" font-style="normal" text-anchor="start" fill="#000" >3</text>
<line x1="398.02" y1="195" x2="398.02" y2="196.3" stroke="#111" stroke-width="0.8" />
<line x1="401.72" y1="195" x2="401.72" y2="196.3" stroke="#111" stroke-width="0.8" />
<line x1="404.34" y1="195" x2="404.34" y2="196.3" stroke="#111" stroke-width="0.8" />
<line x1="406.38" y1="195" x2="406.38" y2="196.3" stroke="#111" stroke-width="0.8" />
<line x1="408.04" y1="195" x2="408.04" y2="196.3" stroke="#111" stroke-width="0.8" />
<line x1="409.45" y1="195" x2="409.45" y2="196.3" stroke="#111" stroke-width="0.8" />
<line x1="410.66" y1="195" x2="410.66" y2="196.3" stroke="#111" stroke-width="0.8" />
<line x1="411.74" y1="195" x2="411.74" y2="196.3" stroke="#111" stroke-width="0.8" />
<line x1="412.7" y1="195" x2="412.7" y2="197.2" stroke="#111" stroke-width="1.1" />
<text x="405.67" y="207.2" font-family="Liberation Sans, sans-serif" font-size="8.8" font-weight="bold" font-style="normal" text-anchor="start" fill="#000" textLength="10.4" lengthAdjust="spacingAndGlyphs" >10</text>
<text x="417.07" y="203.9" font-family="Liberation Sans, sans-serif" font-size="4.8" font-weight="bold" font-style="normal" text-anchor="start" fill="#000" >4</text>
<line x1="419.02" y1="195" x2="419.02" y2="196.3" stroke="#111" stroke-width="0.8" />
<line x1="422.72" y1="195" x2="422.72" y2="196.3" stroke="#111" stroke-width="0.8" />
<line x1="425.34" y1="195" x2="425.34" y2="196.3" stroke="#111" stroke-width="0.8" />
<line x1="427.38" y1="195" x2="427.38" y2="196.3" stroke="#111" stroke-width="0.8" />
<line x1="429.04" y1="195" x2="429.04" y2="196.3" stroke="#111" stroke-width="0.8" />
<line x1="430.45" y1="195" x2="430.45" y2="196.3" stroke="#111" stroke-width="0.8" />
<line x1="431.66" y1="195" x2="431.66" y2="196.3" stroke="#111" stroke-width="0.8" />
<line x1="432.74" y1="195" x2="432.74" y2="196.3" stroke="#111" stroke-width="0.8" />
<line x1="433.7" y1="195" x2="433.7" y2="197.2" stroke="#111" stroke-width="1.1" />
<text x="426.67" y="207.2" font-family="Liberation Sans, sans-serif" font-size="8.8" font-weight="bold" font-style="normal" text-anchor="start" fill="#000" textLength="10.4" lengthAdjust="spacingAndGlyphs" >10</text>
<text x="438.07" y="203.9" font-family="Liberation Sans, sans-serif" font-size="4.8" font-weight="bold" font-style="normal" text-anchor="start" fill="#000" >5</text>
<line x1="440.02" y1="195" x2="440.02" y2="196.3" stroke="#111" stroke-width="0.8" />
<line x1="443.72" y1="195" x2="443.72" y2="196.3" stroke="#111" stroke-width="0.8" />
<line x1="446.34" y1="195" x2="446.34" y2="196.3" stroke="#111" stroke-width="0.8" />
<line x1="448.38" y1="195" x2="448.38" y2="196.3" stroke="#111" stroke-width="0.8" />
<line x1="450.04" y1="195" x2="450.04" y2="196.3" stroke="#111" stroke-width="0.8" />
<line x1="451.45" y1="195" x2="451.45" y2="196.3" stroke="#111" stroke-width="0.8" />
<line x1="452.66" y1="195" x2="452.66" y2="196.3" stroke="#111" stroke-width="0.8" />
<line x1="453.74" y1="195" x2="453.74" y2="196.3" stroke="#111" stroke-width="0.8" />
<line x1="454.7" y1="195" x2="454.7" y2="197.2" stroke="#111" stroke-width="1.1" />
<text x="447.67" y="207.2" font-family="Liberation Sans, sans-serif" font-size="8.8" font-weight="bold" font-style="normal" text-anchor="start" fill="#000" textLength="10.4" lengthAdjust="spacingAndGlyphs" >10</text>
<text x="459.07" y="203.9" font-family="Liberation Sans, sans-serif" font-size="4.8" font-weight="bold" font-style="normal" text-anchor="start" fill="#000" >6</text>
<text x="370.5" y="220" font-family="Liberation Sans, sans-serif" font-size="8.4" font-weight="bold" font-style="normal" text-anchor="middle" fill="#000" textLength="51.5" lengthAdjust="spacingAndGlyphs" >[agent] (nM)</text>
<text x="0" y="0" font-family="Liberation Sans, sans-serif" font-size="9.3" font-weight="bold" font-style="normal" text-anchor="middle" fill="#000" textLength="71.5" lengthAdjust="spacingAndGlyphs" transform="translate(258.2,109) rotate(-90)">Relative viability</text>
<polyline points="308,43.8 326.8,44.2 340.9,44.2 356.2,74.6 370.5,132 385.5,143.3 399.8,154.4 414.5,152.9" fill="none" stroke="#ff9e9e" stroke-width="1.5" stroke-linejoin="round" />
<circle cx="308" cy="43.8" r="1.1" fill="#ff9e9e" />
<circle cx="326.8" cy="44.2" r="1.1" fill="#ff9e9e" />
<circle cx="340.9" cy="44.2" r="1.1" fill="#ff9e9e" />
<line x1="356.2" y1="70.1" x2="356.2" y2="79.1" stroke="#ff9e9e" stroke-width="0.9" />
<line x1="354.9" y1="70.1" x2="357.5" y2="70.1" stroke="#ff9e9e" stroke-width="0.9" />
<line x1="354.9" y1="79.1" x2="357.5" y2="79.1" stroke="#ff9e9e" stroke-width="0.9" />
<circle cx="356.2" cy="74.6" r="1.1" fill="#ff9e9e" />
<line x1="370.5" y1="128" x2="370.5" y2="136" stroke="#ff9e9e" stroke-width="0.9" />
<line x1="369.2" y1="128" x2="371.8" y2="128" stroke="#ff9e9e" stroke-width="0.9" />
<line x1="369.2" y1="136" x2="371.8" y2="136" stroke="#ff9e9e" stroke-width="0.9" />
<circle cx="370.5" cy="132" r="1.1" fill="#ff9e9e" />
<line x1="385.5" y1="141.8" x2="385.5" y2="144.8" stroke="#ff9e9e" stroke-width="0.9" />
<line x1="384.2" y1="141.8" x2="386.8" y2="141.8" stroke="#ff9e9e" stroke-width="0.9" />
<line x1="384.2" y1="144.8" x2="386.8" y2="144.8" stroke="#ff9e9e" stroke-width="0.9" />
<circle cx="385.5" cy="143.3" r="1.1" fill="#ff9e9e" />
<line x1="399.8" y1="151.4" x2="399.8" y2="157.4" stroke="#ff9e9e" stroke-width="0.9" />
<line x1="398.5" y1="151.4" x2="401.1" y2="151.4" stroke="#ff9e9e" stroke-width="0.9" />
<line x1="398.5" y1="157.4" x2="401.1" y2="157.4" stroke="#ff9e9e" stroke-width="0.9" />
<circle cx="399.8" cy="154.4" r="1.1" fill="#ff9e9e" />
<circle cx="414.5" cy="152.9" r="1.1" fill="#ff9e9e" />
<polyline points="308,43.8 326.8,44.2 340.9,44.2 360.2,44.3 370.1,44.3 379.6,53.8 390,120 399.8,148.4" fill="none" stroke="#d0d0d0" stroke-width="1.4" stroke-linejoin="round" />
<circle cx="308" cy="43.8" r="1.1" fill="#d0d0d0" />
<circle cx="326.8" cy="44.2" r="1.1" fill="#d0d0d0" />
<circle cx="340.9" cy="44.2" r="1.1" fill="#d0d0d0" />
<circle cx="360.2" cy="44.3" r="1.1" fill="#d0d0d0" />
<circle cx="370.1" cy="44.3" r="1.1" fill="#d0d0d0" />
<circle cx="379.6" cy="53.8" r="1.1" fill="#d0d0d0" />
<line x1="390" y1="117" x2="390" y2="123" stroke="#d0d0d0" stroke-width="0.9" />
<line x1="388.7" y1="117" x2="391.3" y2="117" stroke="#d0d0d0" stroke-width="0.9" />
<line x1="388.7" y1="123" x2="391.3" y2="123" stroke="#d0d0d0" stroke-width="0.9" />
<circle cx="390" cy="120" r="1.1" fill="#d0d0d0" />
<line x1="399.8" y1="145.4" x2="399.8" y2="151.4" stroke="#d0d0d0" stroke-width="0.9" />
<line x1="398.5" y1="145.4" x2="401.1" y2="145.4" stroke="#d0d0d0" stroke-width="0.9" />
<line x1="398.5" y1="151.4" x2="401.1" y2="151.4" stroke="#d0d0d0" stroke-width="0.9" />
<circle cx="399.8" cy="148.4" r="1.1" fill="#d0d0d0" />
<polyline points="308,43.8 326.8,42.6 340.9,41.4 360.2,41.1 370.1,41.4 379.6,50.6 389.9,78.4 399.9,112.5" fill="none" stroke="#7a7a7a" stroke-width="1.6" stroke-linejoin="round" />
<line x1="308" y1="41.3" x2="308" y2="46.3" stroke="#7a7a7a" stroke-width="0.9" />
<line x1="306.7" y1="41.3" x2="309.3" y2="41.3" stroke="#7a7a7a" stroke-width="0.9" />
<line x1="306.7" y1="46.3" x2="309.3" y2="46.3" stroke="#7a7a7a" stroke-width="0.9" />
<circle cx="308" cy="43.8" r="1.1" fill="#7a7a7a" />
<line x1="326.8" y1="39.6" x2="326.8" y2="45.6" stroke="#7a7a7a" stroke-width="0.9" />
<line x1="325.5" y1="39.6" x2="328.1" y2="39.6" stroke="#7a7a7a" stroke-width="0.9" />
<line x1="325.5" y1="45.6" x2="328.1" y2="45.6" stroke="#7a7a7a" stroke-width="0.9" />
<circle cx="326.8" cy="42.6" r="1.1" fill="#7a7a7a" />
<circle cx="340.9" cy="41.4" r="1.1" fill="#7a7a7a" />
<line x1="360.2" y1="37.6" x2="360.2" y2="44.6" stroke="#7a7a7a" stroke-width="0.9" />
<line x1="358.9" y1="37.6" x2="361.5" y2="37.6" stroke="#7a7a7a" stroke-width="0.9" />
<line x1="358.9" y1="44.6" x2="361.5" y2="44.6" stroke="#7a7a7a" stroke-width="0.9" />
<circle cx="360.2" cy="41.1" r="1.1" fill="#7a7a7a" />
<line x1="370.1" y1="38.4" x2="370.1" y2="44.4" stroke="#7a7a7a" stroke-width="0.9" />
<line x1="368.8" y1="38.4" x2="371.4" y2="38.4" stroke="#7a7a7a" stroke-width="0.9" />
<line x1="368.8" y1="44.4" x2="371.4" y2="44.4" stroke="#7a7a7a" stroke-width="0.9" />
<circle cx="370.1" cy="41.4" r="1.1" fill="#7a7a7a" />
<line x1="379.6" y1="47.6" x2="379.6" y2="53.6" stroke="#7a7a7a" stroke-width="0.9" />
<line x1="378.3" y1="47.6" x2="380.9" y2="47.6" stroke="#7a7a7a" stroke-width="0.9" />
<line x1="378.3" y1="53.6" x2="380.9" y2="53.6" stroke="#7a7a7a" stroke-width="0.9" />
<circle cx="379.6" cy="50.6" r="1.1" fill="#7a7a7a" />
<line x1="389.9" y1="74.4" x2="389.9" y2="82.4" stroke="#7a7a7a" stroke-width="0.9" />
<line x1="388.6" y1="74.4" x2="391.2" y2="74.4" stroke="#7a7a7a" stroke-width="0.9" />
<line x1="388.6" y1="82.4" x2="391.2" y2="82.4" stroke="#7a7a7a" stroke-width="0.9" />
<circle cx="389.9" cy="78.4" r="1.1" fill="#7a7a7a" />
<line x1="399.9" y1="110" x2="399.9" y2="115" stroke="#7a7a7a" stroke-width="0.9" />
<line x1="398.6" y1="110" x2="401.2" y2="110" stroke="#7a7a7a" stroke-width="0.9" />
<line x1="398.6" y1="115" x2="401.2" y2="115" stroke="#7a7a7a" stroke-width="0.9" />
<circle cx="399.9" cy="112.5" r="1.1" fill="#7a7a7a" />
<polyline points="308,43.8 326.8,40.7 340.9,39.3 356.2,42.5 370.4,50.4 385.3,65.7 399.9,88.7 414.5,107.8" fill="none" stroke="#f01414" stroke-width="2" stroke-linejoin="round" />
<circle cx="308" cy="43.8" r="1.1" fill="#f01414" />
<line x1="326.8" y1="36.7" x2="326.8" y2="44.7" stroke="#f01414" stroke-width="0.9" />
<line x1="325.5" y1="36.7" x2="328.1" y2="36.7" stroke="#f01414" stroke-width="0.9" />
<line x1="325.5" y1="44.7" x2="328.1" y2="44.7" stroke="#f01414" stroke-width="0.9" />
<circle cx="326.8" cy="40.7" r="1.1" fill="#f01414" />
<line x1="340.9" y1="36.8" x2="340.9" y2="41.8" stroke="#f01414" stroke-width="0.9" />
<line x1="339.6" y1="36.8" x2="342.2" y2="36.8" stroke="#f01414" stroke-width="0.9" />
<line x1="339.6" y1="41.8" x2="342.2" y2="41.8" stroke="#f01414" stroke-width="0.9" />
<circle cx="340.9" cy="39.3" r="1.1" fill="#f01414" />
<line x1="356.2" y1="38.5" x2="356.2" y2="46.5" stroke="#f01414" stroke-width="0.9" />
<line x1="354.9" y1="38.5" x2="357.5" y2="38.5" stroke="#f01414" stroke-width="0.9" />
<line x1="354.9" y1="46.5" x2="357.5" y2="46.5" stroke="#f01414" stroke-width="0.9" />
<circle cx="356.2" cy="42.5" r="1.1" fill="#f01414" />
<line x1="370.4" y1="47.4" x2="370.4" y2="53.4" stroke="#f01414" stroke-width="0.9" />
<line x1="369.1" y1="47.4" x2="371.7" y2="47.4" stroke="#f01414" stroke-width="0.9" />
<line x1="369.1" y1="53.4" x2="371.7" y2="53.4" stroke="#f01414" stroke-width="0.9" />
<circle cx="370.4" cy="50.4" r="1.1" fill="#f01414" />
<line x1="385.3" y1="59.7" x2="385.3" y2="71.7" stroke="#f01414" stroke-width="0.9" />
<line x1="384" y1="59.7" x2="386.6" y2="59.7" stroke="#f01414" stroke-width="0.9" />
<line x1="384" y1="71.7" x2="386.6" y2="71.7" stroke="#f01414" stroke-width="0.9" />
<circle cx="385.3" cy="65.7" r="1.1" fill="#f01414" />
<line x1="399.9" y1="85.2" x2="399.9" y2="92.2" stroke="#f01414" stroke-width="0.9" />
<line x1="398.6" y1="85.2" x2="401.2" y2="85.2" stroke="#f01414" stroke-width="0.9" />
<line x1="398.6" y1="92.2" x2="401.2" y2="92.2" stroke="#f01414" stroke-width="0.9" />
<circle cx="399.9" cy="88.7" r="1.1" fill="#f01414" />
<line x1="414.5" y1="105.8" x2="414.5" y2="109.8" stroke="#f01414" stroke-width="0.9" />
<line x1="413.2" y1="105.8" x2="415.8" y2="105.8" stroke="#f01414" stroke-width="0.9" />
<line x1="413.2" y1="109.8" x2="415.8" y2="109.8" stroke="#f01414" stroke-width="0.9" />
<circle cx="414.5" cy="107.8" r="1.1" fill="#f01414" />
<line x1="291" y1="157.8" x2="306.9" y2="157.8" stroke="#ff9e9e" stroke-width="2" />
<circle cx="298.95" cy="157.8" r="1.1" fill="#ff9e9e" />
<text x="310.4" y="160.5" font-family="Liberation Sans, sans-serif" font-size="9.3" font-weight="normal" font-style="normal" text-anchor="start" fill="#000" >AKP (+)Dox</text>
<line x1="291" y1="167.73" x2="306.9" y2="167.73" stroke="#d0d0d0" stroke-width="2.2" />
<circle cx="298.95" cy="167.73" r="1.1" fill="#d0d0d0" />
<text x="310.4" y="170.43" font-family="Liberation Sans, sans-serif" font-size="9.3" font-weight="normal" font-style="normal" text-anchor="start" fill="#000" >AKP (+)DoxPt</text>
<line x1="291" y1="177.66" x2="306.9" y2="177.66" stroke="#f01414" stroke-width="2.4" />
<circle cx="298.95" cy="177.66" r="1.1" fill="#f01414" />
<text x="310.4" y="180.36" font-family="Liberation Sans, sans-serif" font-size="9.3" font-weight="normal" font-style="normal" text-anchor="start" fill="#000" >AKP/DoxR (+)Dox</text>
<line x1="291" y1="187.59" x2="306.9" y2="187.59" stroke="#7a7a7a" stroke-width="1.5" />
<circle cx="298.95" cy="187.59" r="1.1" fill="#7a7a7a" />
<text x="310.4" y="190.29" font-family="Liberation Sans, sans-serif" font-size="9.3" font-weight="normal" font-style="normal" text-anchor="start" fill="#000" >AKP/DoxR (+)DoxPt</text>
<text x="452.6" y="10.3" font-family="Liberation Sans, sans-serif" font-size="14" font-weight="bold" font-style="normal" text-anchor="start" fill="#000" >c</text>
<text x="594.6" y="16.5" font-family="Liberation Sans, sans-serif" font-size="8.4" font-weight="bold" font-style="normal" text-anchor="middle" fill="#000" textLength="157" lengthAdjust="spacingAndGlyphs" >Effect of verapamil on drug potency</text>
<line x1="510.5" y1="21.3" x2="510.5" y2="189.7" stroke="#6a6a6a" stroke-width="1.4" />
<line x1="508.1" y1="37.6" x2="510.5" y2="37.6" stroke="#6a6a6a" stroke-width="1.2" />
<text x="507.3" y="40.8" font-family="Liberation Sans, sans-serif" font-size="9" font-weight="bold" font-style="normal" text-anchor="end" fill="#000" >1</text>
<line x1="508.1" y1="88.1" x2="510.5" y2="88.1" stroke="#6a6a6a" stroke-width="1.2" />
<text x="507.3" y="91.3" font-family="Liberation Sans, sans-serif" font-size="9" font-weight="bold" font-style="normal" text-anchor="end" fill="#000" >0.1</text>
<line x1="508.1" y1="138.6" x2="510.5" y2="138.6" stroke="#6a6a6a" stroke-width="1.2" />
<text x="507.3" y="141.8" font-family="Liberation Sans, sans-serif" font-size="9" font-weight="bold" font-style="normal" text-anchor="end" fill="#000" >0.01</text>
<line x1="508.1" y1="189.1" x2="510.5" y2="189.1" stroke="#6a6a6a" stroke-width="1.2" />
<text x="507.3" y="192.3" font-family="Liberation Sans, sans-serif" font-size="9" font-weight="bold" font-style="normal" text-anchor="end" fill="#000" >0.001</text>
<line x1="509.2" y1="22.4" x2="510.5" y2="22.4" stroke="#6a6a6a" stroke-width="0.8" />
<line x1="509.2" y1="72.9" x2="510.5" y2="72.9" stroke="#6a6a6a" stroke-width="0.8" />
<line x1="509.2" y1="64.01" x2="510.5" y2="64.01" stroke="#6a6a6a" stroke-width="0.8" />
<line x1="509.2" y1="57.7" x2="510.5" y2="57.7" stroke="#6a6a6a" stroke-width="0.8" />
<line x1="509.2" y1="52.8" x2="510.5" y2="52.8" stroke="#6a6a6a" stroke-width="0.8" />
<line x1="509.2" y1="48.8" x2="510.5" y2="48.8" stroke="#6a6a6a" stroke-width="0.8" />
<line x1="509.2" y1="45.42" x2="510.5" y2="45.42" stroke="#6a6a6a" stroke-width="0.8" />
<line x1="509.2" y1="42.49" x2="510.5" y2="42.49" stroke="#6a6a6a" stroke-width="0.8" />
<line x1="509.2" y1="39.91" x2="510.5" y2="39.91" stroke="#6a6a6a" stroke-width="0.8" />
<line x1="509.2" y1="123.4" x2="510.5" y2="123.4" stroke="#6a6a6a" stroke-width="0.8" />
<line x1="509.2" y1="114.51" x2="510.5" y2="114.51" stroke="#6a6a6a" stroke-width="0.8" />
<line x1="509.2" y1="108.2" x2="510.5" y2="108.2" stroke="#6a6a6a" stroke-width="0.8" />
<line x1="509.2" y1="103.3" x2="510.5" y2="103.3" stroke="#6a6a6a" stroke-width="0.8" />
<line x1="509.2" y1="99.3" x2="510.5" y2="99.3" stroke="#6a6a6a" stroke-width="0.8" />
<line x1="509.2" y1="95.92" x2="510.5" y2="95.92" stroke="#6a6a6a" stroke-width="0.8" />
<line x1="509.2" y1="92.99" x2="510.5" y2="92.99" stroke="#6a6a6a" stroke-width="0.8" />
<line x1="509.2" y1="90.41" x2="510.5" y2="90.41" stroke="#6a6a6a" stroke-width="0.8" />
<line x1="509.2" y1="173.9" x2="510.5" y2="173.9" stroke="#6a6a6a" stroke-width="0.8" />
<line x1="509.2" y1="165.01" x2="510.5" y2="165.01" stroke="#6a6a6a" stroke-width="0.8" />
<line x1="509.2" y1="158.7" x2="510.5" y2="158.7" stroke="#6a6a6a" stroke-width="0.8" />
<line x1="509.2" y1="153.8" x2="510.5" y2="153.8" stroke="#6a6a6a" stroke-width="0.8" />
<line x1="509.2" y1="149.8" x2="510.5" y2="149.8" stroke="#6a6a6a" stroke-width="0.8" />
<line x1="509.2" y1="146.42" x2="510.5" y2="146.42" stroke="#6a6a6a" stroke-width="0.8" />
<line x1="509.2" y1="143.49" x2="510.5" y2="143.49" stroke="#6a6a6a" stroke-width="0.8" />
<line x1="509.2" y1="140.91" x2="510.5" y2="140.91" stroke="#6a6a6a" stroke-width="0.8" />
<line x1="509.9" y1="189.1" x2="678.5" y2="189.1" stroke="#111" stroke-width="1.3" />
<line x1="510.5" y1="189.1" x2="510.5" y2="191.3" stroke="#111" stroke-width="1.1" />
<text x="502.67" y="201.3" font-family="Liberation Sans, sans-serif" font-size="8.8" font-weight="bold" font-style="normal" text-anchor="start" fill="#000" textLength="10.4" lengthAdjust="spacingAndGlyphs" >10</text>
<text x="514.07" y="198" font-family="Liberation Sans, sans-serif" font-size="4.8" font-weight="bold" font-style="normal" text-anchor="start" fill="#000" >-2</text>
<line x1="516.82" y1="189.1" x2="516.82" y2="190.4" stroke="#111" stroke-width="0.8" />
<line x1="520.52" y1="189.1" x2="520.52" y2="190.4" stroke="#111" stroke-width="0.8" />
<line x1="523.14" y1="189.1" x2="523.14" y2="190.4" stroke="#111" stroke-width="0.8" />
<line x1="525.18" y1="189.1" x2="525.18" y2="190.4" stroke="#111" stroke-width="0.8" />
<line x1="526.84" y1="189.1" x2="526.84" y2="190.4" stroke="#111" stroke-width="0.8" />
<line x1="528.25" y1="189.1" x2="528.25" y2="190.4" stroke="#111" stroke-width="0.8" />
<line x1="529.46" y1="189.1" x2="529.46" y2="190.4" stroke="#111" stroke-width="0.8" />
<line x1="530.54" y1="189.1" x2="530.54" y2="190.4" stroke="#111" stroke-width="0.8" />
<line x1="531.5" y1="189.1" x2="531.5" y2="191.3" stroke="#111" stroke-width="1.1" />
<text x="523.67" y="201.3" font-family="Liberation Sans, sans-serif" font-size="8.8" font-weight="bold" font-style="normal" text-anchor="start" fill="#000" textLength="10.4" lengthAdjust="spacingAndGlyphs" >10</text>
<text x="535.07" y="198" font-family="Liberation Sans, sans-serif" font-size="4.8" font-weight="bold" font-style="normal" text-anchor="start" fill="#000" >-1</text>
<line x1="537.82" y1="189.1" x2="537.82" y2="190.4" stroke="#111" stroke-width="0.8" />
<line x1="541.52" y1="189.1" x2="541.52" y2="190.4" stroke="#111" stroke-width="0.8" />
<line x1="544.14" y1="189.1" x2="544.14" y2="190.4" stroke="#111" stroke-width="0.8" />
<line x1="546.18" y1="189.1" x2="546.18" y2="190.4" stroke="#111" stroke-width="0.8" />
<line x1="547.84" y1="189.1" x2="547.84" y2="190.4" stroke="#111" stroke-width="0.8" />
<line x1="549.25" y1="189.1" x2="549.25" y2="190.4" stroke="#111" stroke-width="0.8" />
<line x1="550.46" y1="189.1" x2="550.46" y2="190.4" stroke="#111" stroke-width="0.8" />
<line x1="551.54" y1="189.1" x2="551.54" y2="190.4" stroke="#111" stroke-width="0.8" />
<line x1="552.5" y1="189.1" x2="552.5" y2="191.3" stroke="#111" stroke-width="1.1" />
<text x="545.47" y="201.3" font-family="Liberation Sans, sans-serif" font-size="8.8" font-weight="bold" font-style="normal" text-anchor="start" fill="#000" textLength="10.4" lengthAdjust="spacingAndGlyphs" >10</text>
<text x="556.87" y="198" font-family="Liberation Sans, sans-serif" font-size="4.8" font-weight="bold" font-style="normal" text-anchor="start" fill="#000" >0</text>
<line x1="558.82" y1="189.1" x2="558.82" y2="190.4" stroke="#111" stroke-width="0.8" />
<line x1="562.52" y1="189.1" x2="562.52" y2="190.4" stroke="#111" stroke-width="0.8" />
<line x1="565.14" y1="189.1" x2="565.14" y2="190.4" stroke="#111" stroke-width="0.8" />
<line x1="567.18" y1="189.1" x2="567.18" y2="190.4" stroke="#111" stroke-width="0.8" />
<line x1="568.84" y1="189.1" x2="568.84" y2="190.4" stroke="#111" stroke-width="0.8" />
<line x1="570.25" y1="189.1" x2="570.25" y2="190.4" stroke="#111" stroke-width="0.8" />
<line x1="571.46" y1="189.1" x2="571.46" y2="190.4" stroke="#111" stroke-width="0.8" />
<line x1="572.54" y1="189.1" x2="572.54" y2="190.4" stroke="#111" stroke-width="0.8" />
<line x1="573.5" y1="189.1" x2="573.5" y2="191.3" stroke="#111" stroke-width="1.1" />
<text x="566.47" y="201.3" font-family="Liberation Sans, sans-serif" font-size="8.8" font-weight="bold" font-style="normal" text-anchor="start" fill="#000" textLength="10.4" lengthAdjust="spacingAndGlyphs" >10</text>
<text x="577.87" y="198" font-family="Liberation Sans, sans-serif" font-size="4.8" font-weight="bold" font-style="normal" text-anchor="start" fill="#000" >1</text>
<line x1="579.82" y1="189.1" x2="579.82" y2="190.4" stroke="#111" stroke-width="0.8" />
<line x1="583.52" y1="189.1" x2="583.52" y2="190.4" stroke="#111" stroke-width="0.8" />
<line x1="586.14" y1="189.1" x2="586.14" y2="190.4" stroke="#111" stroke-width="0.8" />
<line x1="588.18" y1="189.1" x2="588.18" y2="190.4" stroke="#111" stroke-width="0.8" />
<line x1="589.84" y1="189.1" x2="589.84" y2="190.4" stroke="#111" stroke-width="0.8" />
<line x1="591.25" y1="189.1" x2="591.25" y2="190.4" stroke="#111" stroke-width="0.8" />
<line x1="592.46" y1="189.1" x2="592.46" y2="190.4" stroke="#111" stroke-width="0.8" />
<line x1="593.54" y1="189.1" x2="593.54" y2="190.4" stroke="#111" stroke-width="0.8" />
<line x1="594.5" y1="189.1" x2="594.5" y2="191.3" stroke="#111" stroke-width="1.1" />
<text x="587.47" y="201.3" font-family="Liberation Sans, sans-serif" font-size="8.8" font-weight="bold" font-style="normal" text-anchor="start" fill="#000" textLength="10.4" lengthAdjust="spacingAndGlyphs" >10</text>
<text x="598.87" y="198" font-family="Liberation Sans, sans-serif" font-size="4.8" font-weight="bold" font-style="normal" text-anchor="start" fill="#000" >2</text>
<line x1="600.82" y1="189.1" x2="600.82" y2="190.4" stroke="#111" stroke-width="0.8" />
<line x1="604.52" y1="189.1" x2="604.52" y2="190.4" stroke="#111" stroke-width="0.8" />
<line x1="607.14" y1="189.1" x2="607.14" y2="190.4" stroke="#111" stroke-width="0.8" />
<line x1="609.18" y1="189.1" x2="609.18" y2="190.4" stroke="#111" stroke-width="0.8" />
<line x1="610.84" y1="189.1" x2="610.84" y2="190.4" stroke="#111" stroke-width="0.8" />
<line x1="612.25" y1="189.1" x2="612.25" y2="190.4" stroke="#111" stroke-width="0.8" />
<line x1="613.46" y1="189.1" x2="613.46" y2="190.4" stroke="#111" stroke-width="0.8" />
<line x1="614.54" y1="189.1" x2="614.54" y2="190.4" stroke="#111" stroke-width="0.8" />
<line x1="615.5" y1="189.1" x2="615.5" y2="191.3" stroke="#111" stroke-width="1.1" />
<text x="608.47" y="201.3" font-family="Liberation Sans, sans-serif" font-size="8.8" font-weight="bold" font-style="normal" text-anchor="start" fill="#000" textLength="10.4" lengthAdjust="spacingAndGlyphs" >10</text>
<text x="619.87" y="198" font-family="Liberation Sans, sans-serif" font-size="4.8" font-weight="bold" font-style="normal" text-anchor="start" fill="#000" >3</text>
<line x1="621.82" y1="189.1" x2="621.82" y2="190.4" stroke="#111" stroke-width="0.8" />
<line x1="625.52" y1="189.1" x2="625.52" y2="190.4" stroke="#111" stroke-width="0.8" />
<line x1="628.14" y1="189.1" x2="628.14" y2="190.4" stroke="#111" stroke-width="0.8" />
<line x1="630.18" y1="189.1" x2="630.18" y2="190.4" stroke="#111" stroke-width="0.8" />
<line x1="631.84" y1="189.1" x2="631.84" y2="190.4" stroke="#111" stroke-width="0.8" />
<line x1="633.25" y1="189.1" x2="633.25" y2="190.4" stroke="#111" stroke-width="0.8" />
<line x1="634.46" y1="189.1" x2="634.46" y2="190.4" stroke="#111" stroke-width="0.8" />
<line x1="635.54" y1="189.1" x2="635.54" y2="190.4" stroke="#111" stroke-width="0.8" />
<line x1="636.5" y1="189.1" x2="636.5" y2="191.3" stroke="#111" stroke-width="1.1" />
<text x="629.47" y="201.3" font-family="Liberation Sans, sans-serif" font-size="8.8" font-weight="bold" font-style="normal" text-anchor="start" fill="#000" textLength="10.4" lengthAdjust="spacingAndGlyphs" >10</text>
<text x="640.87" y="198" font-family="Liberation Sans, sans-serif" font-size="4.8" font-weight="bold" font-style="normal" text-anchor="start" fill="#000" >4</text>
<line x1="642.82" y1="189.1" x2="642.82" y2="190.4" stroke="#111" stroke-width="0.8" />
<line x1="646.52" y1="189.1" x2="646.52" y2="190.4" stroke="#111" stroke-width="0.8" />
<line x1="649.14" y1="189.1" x2="649.14" y2="190.4" stroke="#111" stroke-width="0.8" />
<line x1="651.18" y1="189.1" x2="651.18" y2="190.4" stroke="#111" stroke-width="0.8" />
<line x1="652.84" y1="189.1" x2="652.84" y2="190.4" stroke="#111" stroke-width="0.8" />
<line x1="654.25" y1="189.1" x2="654.25" y2="190.4" stroke="#111" stroke-width="0.8" />
<line x1="655.46" y1="189.1" x2="655.46" y2="190.4" stroke="#111" stroke-width="0.8" />
<line x1="656.54" y1="189.1" x2="656.54" y2="190.4" stroke="#111" stroke-width="0.8" />
<line x1="657.5" y1="189.1" x2="657.5" y2="191.3" stroke="#111" stroke-width="1.1" />
<text x="650.47" y="201.3" font-family="Liberation Sans, sans-serif" font-size="8.8" font-weight="bold" font-style="normal" text-anchor="start" fill="#000" textLength="10.4" lengthAdjust="spacingAndGlyphs" >10</text>
<text x="661.87" y="198" font-family="Liberation Sans, sans-serif" font-size="4.8" font-weight="bold" font-style="normal" text-anchor="start" fill="#000" >5</text>
<line x1="663.82" y1="189.1" x2="663.82" y2="190.4" stroke="#111" stroke-width="0.8" />
<line x1="667.52" y1="189.1" x2="667.52" y2="190.4" stroke="#111" stroke-width="0.8" />
<line x1="670.14" y1="189.1" x2="670.14" y2="190.4" stroke="#111" stroke-width="0.8" />
<line x1="672.18" y1="189.1" x2="672.18" y2="190.4" stroke="#111" stroke-width="0.8" />
<line x1="673.84" y1="189.1" x2="673.84" y2="190.4" stroke="#111" stroke-width="0.8" />
<line x1="675.25" y1="189.1" x2="675.25" y2="190.4" stroke="#111" stroke-width="0.8" />
<line x1="676.46" y1="189.1" x2="676.46" y2="190.4" stroke="#111" stroke-width="0.8" />
<line x1="677.54" y1="189.1" x2="677.54" y2="190.4" stroke="#111" stroke-width="0.8" />
<line x1="678.5" y1="189.1" x2="678.5" y2="191.3" stroke="#111" stroke-width="1.1" />
<text x="671.47" y="201.3" font-family="Liberation Sans, sans-serif" font-size="8.8" font-weight="bold" font-style="normal" text-anchor="start" fill="#000" textLength="10.4" lengthAdjust="spacingAndGlyphs" >10</text>
<text x="682.87" y="198" font-family="Liberation Sans, sans-serif" font-size="4.8" font-weight="bold" font-style="normal" text-anchor="start" fill="#000" >6</text>
<text x="594.8" y="213.9" font-family="Liberation Sans, sans-serif" font-size="8.4" font-weight="bold" font-style="normal" text-anchor="middle" fill="#000" textLength="51.5" lengthAdjust="spacingAndGlyphs" >[agent] (nM)</text>
<text x="0" y="0" font-family="Liberation Sans, sans-serif" font-size="9.3" font-weight="bold" font-style="normal" text-anchor="middle" fill="#000" textLength="70.7" lengthAdjust="spacingAndGlyphs" transform="translate(481.5,103.3) rotate(-90)">Relative viability</text>
<polyline points="531.5,37.4 550.5,30.9 565,34.4 580,42.6 594.4,84.9 609.1,101.7 623.7,108.2 638.4,110.5" fill="none" stroke="#ff9e9e" stroke-width="1.5" stroke-linejoin="round" />
<circle cx="531.5" cy="37.4" r="1.1" fill="#ff9e9e" />
<line x1="550.5" y1="23.9" x2="550.5" y2="37.9" stroke="#ff9e9e" stroke-width="0.9" />
<line x1="549.2" y1="23.9" x2="551.8" y2="23.9" stroke="#ff9e9e" stroke-width="0.9" />
<line x1="549.2" y1="37.9" x2="551.8" y2="37.9" stroke="#ff9e9e" stroke-width="0.9" />
<circle cx="550.5" cy="30.9" r="1.1" fill="#ff9e9e" />
<circle cx="565" cy="34.4" r="1.1" fill="#ff9e9e" />
<circle cx="580" cy="42.6" r="1.1" fill="#ff9e9e" />
<circle cx="594.4" cy="84.9" r="1.1" fill="#ff9e9e" />
<circle cx="609.1" cy="101.7" r="1.1" fill="#ff9e9e" />
<line x1="623.7" y1="106.7" x2="623.7" y2="109.7" stroke="#ff9e9e" stroke-width="0.9" />
<line x1="622.4" y1="106.7" x2="625" y2="106.7" stroke="#ff9e9e" stroke-width="0.9" />
<line x1="622.4" y1="109.7" x2="625" y2="109.7" stroke="#ff9e9e" stroke-width="0.9" />
<circle cx="623.7" cy="108.2" r="1.1" fill="#ff9e9e" />
<line x1="638.4" y1="108.5" x2="638.4" y2="112.5" stroke="#ff9e9e" stroke-width="0.9" />
<line x1="637.1" y1="108.5" x2="639.7" y2="108.5" stroke="#ff9e9e" stroke-width="0.9" />
<line x1="637.1" y1="112.5" x2="639.7" y2="112.5" stroke="#ff9e9e" stroke-width="0.9" />
<circle cx="638.4" cy="110.5" r="1.1" fill="#ff9e9e" />
<polyline points="531.5,37.4 550.5,36.5 565,36 583.7,37 593.8,38.5 603.8,48 613.7,92 623.7,114.9" fill="none" stroke="#d0d0d0" stroke-width="1.4" stroke-linejoin="round" />
<circle cx="531.5" cy="37.4" r="1.1" fill="#d0d0d0" />
<circle cx="550.5" cy="36.5" r="1.1" fill="#d0d0d0" />
<circle cx="565" cy="36" r="1.1" fill="#d0d0d0" />
<circle cx="583.7" cy="37" r="1.1" fill="#d0d0d0" />
<circle cx="593.8" cy="38.5" r="1.1" fill="#d0d0d0" />
<circle cx="603.8" cy="48" r="1.1" fill="#d0d0d0" />
<line x1="613.7" y1="89" x2="613.7" y2="95" stroke="#d0d0d0" stroke-width="0.9" />
<line x1="612.4" y1="89" x2="615" y2="89" stroke="#d0d0d0" stroke-width="0.9" />
<line x1="612.4" y1="95" x2="615" y2="95" stroke="#d0d0d0" stroke-width="0.9" />
<circle cx="613.7" cy="92" r="1.1" fill="#d0d0d0" />
<line x1="623.7" y1="110.9" x2="623.7" y2="118.9" stroke="#d0d0d0" stroke-width="0.9" />
<line x1="622.4" y1="110.9" x2="625" y2="110.9" stroke="#d0d0d0" stroke-width="0.9" />
<line x1="622.4" y1="118.9" x2="625" y2="118.9" stroke="#d0d0d0" stroke-width="0.9" />
<circle cx="623.7" cy="114.9" r="1.1" fill="#d0d0d0" />
<polyline points="531.5,37.4 550.5,36 565,35 583.7,34.7 593.8,35.9 603.8,44.4 613.7,75.2 623.7,106.9" fill="none" stroke="#7a7a7a" stroke-width="1.6" stroke-linejoin="round" />
<line x1="531.5" y1="34.9" x2="531.5" y2="39.9" stroke="#7a7a7a" stroke-width="0.9" />
<line x1="530.2" y1="34.9" x2="532.8" y2="34.9" stroke="#7a7a7a" stroke-width="0.9" />
<line x1="530.2" y1="39.9" x2="532.8" y2="39.9" stroke="#7a7a7a" stroke-width="0.9" />
<circle cx="531.5" cy="37.4" r="1.1" fill="#7a7a7a" />
<circle cx="550.5" cy="36" r="1.1" fill="#7a7a7a" />
<circle cx="565" cy="35" r="1.1" fill="#7a7a7a" />
<line x1="583.7" y1="31.2" x2="583.7" y2="38.2" stroke="#7a7a7a" stroke-width="0.9" />
<line x1="582.4" y1="31.2" x2="585" y2="31.2" stroke="#7a7a7a" stroke-width="0.9" />
<line x1="582.4" y1="38.2" x2="585" y2="38.2" stroke="#7a7a7a" stroke-width="0.9" />
<circle cx="583.7" cy="34.7" r="1.1" fill="#7a7a7a" />
<line x1="593.8" y1="33.4" x2="593.8" y2="38.4" stroke="#7a7a7a" stroke-width="0.9" />
<line x1="592.5" y1="33.4" x2="595.1" y2="33.4" stroke="#7a7a7a" stroke-width="0.9" />
<line x1="592.5" y1="38.4" x2="595.1" y2="38.4" stroke="#7a7a7a" stroke-width="0.9" />
<circle cx="593.8" cy="35.9" r="1.1" fill="#7a7a7a" />
<line x1="603.8" y1="41.9" x2="603.8" y2="46.9" stroke="#7a7a7a" stroke-width="0.9" />
<line x1="602.5" y1="41.9" x2="605.1" y2="41.9" stroke="#7a7a7a" stroke-width="0.9" />
<line x1="602.5" y1="46.9" x2="605.1" y2="46.9" stroke="#7a7a7a" stroke-width="0.9" />
<circle cx="603.8" cy="44.4" r="1.1" fill="#7a7a7a" />
<line x1="613.7" y1="71.2" x2="613.7" y2="79.2" stroke="#7a7a7a" stroke-width="0.9" />
<line x1="612.4" y1="71.2" x2="615" y2="71.2" stroke="#7a7a7a" stroke-width="0.9" />
<line x1="612.4" y1="79.2" x2="615" y2="79.2" stroke="#7a7a7a" stroke-width="0.9" />
<circle cx="613.7" cy="75.2" r="1.1" fill="#7a7a7a" />
<line x1="623.7" y1="103.9" x2="623.7" y2="109.9" stroke="#7a7a7a" stroke-width="0.9" />
<line x1="622.4" y1="103.9" x2="625" y2="103.9" stroke="#7a7a7a" stroke-width="0.9" />
<line x1="622.4" y1="109.9" x2="625" y2="109.9" stroke="#7a7a7a" stroke-width="0.9" />
<circle cx="623.7" cy="106.9" r="1.1" fill="#7a7a7a" />
<polyline points="531.5,37.4 550.5,34.4 565,33.2 579.7,37 594.7,45.3 609.1,59.4 623.7,83.1 638.4,102" fill="none" stroke="#f01414" stroke-width="2" stroke-linejoin="round" />
<circle cx="531.5" cy="37.4" r="1.1" fill="#f01414" />
<line x1="550.5" y1="30.4" x2="550.5" y2="38.4" stroke="#f01414" stroke-width="0.9" />
<line x1="549.2" y1="30.4" x2="551.8" y2="30.4" stroke="#f01414" stroke-width="0.9" />
<line x1="549.2" y1="38.4" x2="551.8" y2="38.4" stroke="#f01414" stroke-width="0.9" />
<circle cx="550.5" cy="34.4" r="1.1" fill="#f01414" />
<line x1="565" y1="30.2" x2="565" y2="36.2" stroke="#f01414" stroke-width="0.9" />
<line x1="563.7" y1="30.2" x2="566.3" y2="30.2" stroke="#f01414" stroke-width="0.9" />
<line x1="563.7" y1="36.2" x2="566.3" y2="36.2" stroke="#f01414" stroke-width="0.9" />
<circle cx="565" cy="33.2" r="1.1" fill="#f01414" />
<line x1="579.7" y1="33" x2="579.7" y2="41" stroke="#f01414" stroke-width="0.9" />
<line x1="578.4" y1="33" x2="581" y2="33" stroke="#f01414" stroke-width="0.9" />
<line x1="578.4" y1="41" x2="581" y2="41" stroke="#f01414" stroke-width="0.9" />
<circle cx="579.7" cy="37" r="1.1" fill="#f01414" />
<line x1="594.7" y1="42.3" x2="594.7" y2="48.3" stroke="#f01414" stroke-width="0.9" />
<line x1="593.4" y1="42.3" x2="596" y2="42.3" stroke="#f01414" stroke-width="0.9" />
<line x1="593.4" y1="48.3" x2="596" y2="48.3" stroke="#f01414" stroke-width="0.9" />
<circle cx="594.7" cy="45.3" r="1.1" fill="#f01414" />
<line x1="609.1" y1="54.4" x2="609.1" y2="64.4" stroke="#f01414" stroke-width="0.9" />
<line x1="607.8" y1="54.4" x2="610.4" y2="54.4" stroke="#f01414" stroke-width="0.9" />
<line x1="607.8" y1="64.4" x2="610.4" y2="64.4" stroke="#f01414" stroke-width="0.9" />
<circle cx="609.1" cy="59.4" r="1.1" fill="#f01414" />
<line x1="623.7" y1="79.6" x2="623.7" y2="86.6" stroke="#f01414" stroke-width="0.9" />
<line x1="622.4" y1="79.6" x2="625" y2="79.6" stroke="#f01414" stroke-width="0.9" />
<line x1="622.4" y1="86.6" x2="625" y2="86.6" stroke="#f01414" stroke-width="0.9" />
<circle cx="623.7" cy="83.1" r="1.1" fill="#f01414" />
<line x1="638.4" y1="100" x2="638.4" y2="104" stroke="#f01414" stroke-width="0.9" />
<line x1="637.1" y1="100" x2="639.7" y2="100" stroke="#f01414" stroke-width="0.9" />
<line x1="637.1" y1="104" x2="639.7" y2="104" stroke="#f01414" stroke-width="0.9" />
<circle cx="638.4" cy="102" r="1.1" fill="#f01414" />
<line x1="515.1" y1="149.1" x2="530.6" y2="149.1" stroke="#f01414" stroke-width="2.2" />
<circle cx="522.85" cy="149.1" r="1.1" fill="#f01414" />
<text x="534.6" y="151.8" font-family="Liberation Sans, sans-serif" font-size="9.3" font-weight="normal" font-style="normal" text-anchor="start" fill="#000" >AKP-DoxR (+)Dox</text>
<line x1="515.1" y1="158.9" x2="530.6" y2="158.9" stroke="#7a7a7a" stroke-width="2.4" />
<circle cx="522.85" cy="158.9" r="1.1" fill="#7a7a7a" />
<text x="534.6" y="161.6" font-family="Liberation Sans, sans-serif" font-size="9.3" font-weight="normal" font-style="normal" text-anchor="start" fill="#000" >AKP-DoxR (+)DoxPt</text>
<line x1="515.1" y1="168.7" x2="530.6" y2="168.7" stroke="#ff9e9e" stroke-width="2" />
<circle cx="522.85" cy="168.7" r="1.1" fill="#ff9e9e" />
<text x="534.6" y="171.4" font-family="Liberation Sans, sans-serif" font-size="9.3" font-weight="normal" font-style="normal" text-anchor="start" fill="#000" >AKP-DoxR (+)Dox (+)verapamil</text>
<line x1="515.1" y1="178.5" x2="530.6" y2="178.5" stroke="#d0d0d0" stroke-width="1.6" />
<circle cx="522.85" cy="178.5" r="1.1" fill="#d0d0d0" />
<text x="534.6" y="181.2" font-family="Liberation Sans, sans-serif" font-size="9.3" font-weight="normal" font-style="normal" text-anchor="start" fill="#000" >AKP-DoxR (+)DoxPt (+)verapamil</text>
<text x="-0.5" y="239.5" font-family="Liberation Sans, sans-serif" font-size="14" font-weight="bold" font-style="normal" text-anchor="start" fill="#000" >d</text>
<text x="132.4" y="243.3" font-family="Liberation Sans, sans-serif" font-size="8.4" font-weight="bold" font-style="normal" text-anchor="middle" fill="#000" textLength="39.9" lengthAdjust="spacingAndGlyphs" >AKP/OxR</text>
<line x1="48.5" y1="248" x2="48.5" y2="416.7" stroke="#6a6a6a" stroke-width="1.4" />
<line x1="46.1" y1="264.6" x2="48.5" y2="264.6" stroke="#6a6a6a" stroke-width="1.2" />
<text x="45.3" y="267.8" font-family="Liberation Sans, sans-serif" font-size="9" font-weight="bold" font-style="normal" text-anchor="end" fill="#000" >1</text>
<line x1="46.1" y1="315.1" x2="48.5" y2="315.1" stroke="#6a6a6a" stroke-width="1.2" />
<text x="45.3" y="318.3" font-family="Liberation Sans, sans-serif" font-size="9" font-weight="bold" font-style="normal" text-anchor="end" fill="#000" >0.1</text>
<line x1="46.1" y1="365.6" x2="48.5" y2="365.6" stroke="#6a6a6a" stroke-width="1.2" />
<text x="45.3" y="368.8" font-family="Liberation Sans, sans-serif" font-size="9" font-weight="bold" font-style="normal" text-anchor="end" fill="#000" >0.01</text>
<line x1="46.1" y1="416.1" x2="48.5" y2="416.1" stroke="#6a6a6a" stroke-width="1.2" />
<text x="45.3" y="419.3" font-family="Liberation Sans, sans-serif" font-size="9" font-weight="bold" font-style="normal" text-anchor="end" fill="#000" >0.001</text>
<line x1="47.2" y1="249.4" x2="48.5" y2="249.4" stroke="#6a6a6a" stroke-width="0.8" />
<line x1="47.2" y1="299.9" x2="48.5" y2="299.9" stroke="#6a6a6a" stroke-width="0.8" />
<line x1="47.2" y1="291.01" x2="48.5" y2="291.01" stroke="#6a6a6a" stroke-width="0.8" />
<line x1="47.2" y1="284.7" x2="48.5" y2="284.7" stroke="#6a6a6a" stroke-width="0.8" />
<line x1="47.2" y1="279.8" x2="48.5" y2="279.8" stroke="#6a6a6a" stroke-width="0.8" />
<line x1="47.2" y1="275.8" x2="48.5" y2="275.8" stroke="#6a6a6a" stroke-width="0.8" />
<line x1="47.2" y1="272.42" x2="48.5" y2="272.42" stroke="#6a6a6a" stroke-width="0.8" />
<line x1="47.2" y1="269.49" x2="48.5" y2="269.49" stroke="#6a6a6a" stroke-width="0.8" />
<line x1="47.2" y1="266.91" x2="48.5" y2="266.91" stroke="#6a6a6a" stroke-width="0.8" />
<line x1="47.2" y1="350.4" x2="48.5" y2="350.4" stroke="#6a6a6a" stroke-width="0.8" />
<line x1="47.2" y1="341.51" x2="48.5" y2="341.51" stroke="#6a6a6a" stroke-width="0.8" />
<line x1="47.2" y1="335.2" x2="48.5" y2="335.2" stroke="#6a6a6a" stroke-width="0.8" />
<line x1="47.2" y1="330.3" x2="48.5" y2="330.3" stroke="#6a6a6a" stroke-width="0.8" />
<line x1="47.2" y1="326.3" x2="48.5" y2="326.3" stroke="#6a6a6a" stroke-width="0.8" />
<line x1="47.2" y1="322.92" x2="48.5" y2="322.92" stroke="#6a6a6a" stroke-width="0.8" />
<line x1="47.2" y1="319.99" x2="48.5" y2="319.99" stroke="#6a6a6a" stroke-width="0.8" />
<line x1="47.2" y1="317.41" x2="48.5" y2="317.41" stroke="#6a6a6a" stroke-width="0.8" />
<line x1="47.2" y1="400.9" x2="48.5" y2="400.9" stroke="#6a6a6a" stroke-width="0.8" />
<line x1="47.2" y1="392.01" x2="48.5" y2="392.01" stroke="#6a6a6a" stroke-width="0.8" />
<line x1="47.2" y1="385.7" x2="48.5" y2="385.7" stroke="#6a6a6a" stroke-width="0.8" />
<line x1="47.2" y1="380.8" x2="48.5" y2="380.8" stroke="#6a6a6a" stroke-width="0.8" />
<line x1="47.2" y1="376.8" x2="48.5" y2="376.8" stroke="#6a6a6a" stroke-width="0.8" />
<line x1="47.2" y1="373.42" x2="48.5" y2="373.42" stroke="#6a6a6a" stroke-width="0.8" />
<line x1="47.2" y1="370.49" x2="48.5" y2="370.49" stroke="#6a6a6a" stroke-width="0.8" />
<line x1="47.2" y1="367.91" x2="48.5" y2="367.91" stroke="#6a6a6a" stroke-width="0.8" />
<line x1="47.9" y1="416.1" x2="216.5" y2="416.1" stroke="#111" stroke-width="1.3" />
<line x1="48.5" y1="416.1" x2="48.5" y2="418.3" stroke="#111" stroke-width="1.1" />
<text x="40.67" y="428.3" font-family="Liberation Sans, sans-serif" font-size="8.8" font-weight="bold" font-style="normal" text-anchor="start" fill="#000" textLength="10.4" lengthAdjust="spacingAndGlyphs" >10</text>
<text x="52.07" y="425" font-family="Liberation Sans, sans-serif" font-size="4.8" font-weight="bold" font-style="normal" text-anchor="start" fill="#000" >-2</text>
<line x1="54.82" y1="416.1" x2="54.82" y2="417.4" stroke="#111" stroke-width="0.8" />
<line x1="58.52" y1="416.1" x2="58.52" y2="417.4" stroke="#111" stroke-width="0.8" />
<line x1="61.14" y1="416.1" x2="61.14" y2="417.4" stroke="#111" stroke-width="0.8" />
<line x1="63.18" y1="416.1" x2="63.18" y2="417.4" stroke="#111" stroke-width="0.8" />
<line x1="64.84" y1="416.1" x2="64.84" y2="417.4" stroke="#111" stroke-width="0.8" />
<line x1="66.25" y1="416.1" x2="66.25" y2="417.4" stroke="#111" stroke-width="0.8" />
<line x1="67.46" y1="416.1" x2="67.46" y2="417.4" stroke="#111" stroke-width="0.8" />
<line x1="68.54" y1="416.1" x2="68.54" y2="417.4" stroke="#111" stroke-width="0.8" />
<line x1="69.5" y1="416.1" x2="69.5" y2="418.3" stroke="#111" stroke-width="1.1" />
<text x="61.67" y="428.3" font-family="Liberation Sans, sans-serif" font-size="8.8" font-weight="bold" font-style="normal" text-anchor="start" fill="#000" textLength="10.4" lengthAdjust="spacingAndGlyphs" >10</text>
<text x="73.07" y="425" font-family="Liberation Sans, sans-serif" font-size="4.8" font-weight="bold" font-style="normal" text-anchor="start" fill="#000" >-1</text>
<line x1="75.82" y1="416.1" x2="75.82" y2="417.4" stroke="#111" stroke-width="0.8" />
<line x1="79.52" y1="416.1" x2="79.52" y2="417.4" stroke="#111" stroke-width="0.8" />
<line x1="82.14" y1="416.1" x2="82.14" y2="417.4" stroke="#111" stroke-width="0.8" />
<line x1="84.18" y1="416.1" x2="84.18" y2="417.4" stroke="#111" stroke-width="0.8" />
<line x1="85.84" y1="416.1" x2="85.84" y2="417.4" stroke="#111" stroke-width="0.8" />
<line x1="87.25" y1="416.1" x2="87.25" y2="417.4" stroke="#111" stroke-width="0.8" />
<line x1="88.46" y1="416.1" x2="88.46" y2="417.4" stroke="#111" stroke-width="0.8" />
<line x1="89.54" y1="416.1" x2="89.54" y2="417.4" stroke="#111" stroke-width="0.8" />
<line x1="90.5" y1="416.1" x2="90.5" y2="418.3" stroke="#111" stroke-width="1.1" />
<text x="83.47" y="428.3" font-family="Liberation Sans, sans-serif" font-size="8.8" font-weight="bold" font-style="normal" text-anchor="start" fill="#000" textLength="10.4" lengthAdjust="spacingAndGlyphs" >10</text>
<text x="94.87" y="425" font-family="Liberation Sans, sans-serif" font-size="4.8" font-weight="bold" font-style="normal" text-anchor="start" fill="#000" >0</text>
<line x1="96.82" y1="416.1" x2="96.82" y2="417.4" stroke="#111" stroke-width="0.8" />
<line x1="100.52" y1="416.1" x2="100.52" y2="417.4" stroke="#111" stroke-width="0.8" />
<line x1="103.14" y1="416.1" x2="103.14" y2="417.4" stroke="#111" stroke-width="0.8" />
<line x1="105.18" y1="416.1" x2="105.18" y2="417.4" stroke="#111" stroke-width="0.8" />
<line x1="106.84" y1="416.1" x2="106.84" y2="417.4" stroke="#111" stroke-width="0.8" />
<line x1="108.25" y1="416.1" x2="108.25" y2="417.4" stroke="#111" stroke-width="0.8" />
<line x1="109.46" y1="416.1" x2="109.46" y2="417.4" stroke="#111" stroke-width="0.8" />
<line x1="110.54" y1="416.1" x2="110.54" y2="417.4" stroke="#111" stroke-width="0.8" />
<line x1="111.5" y1="416.1" x2="111.5" y2="418.3" stroke="#111" stroke-width="1.1" />
<text x="104.47" y="428.3" font-family="Liberation Sans, sans-serif" font-size="8.8" font-weight="bold" font-style="normal" text-anchor="start" fill="#000" textLength="10.4" lengthAdjust="spacingAndGlyphs" >10</text>
<text x="115.87" y="425" font-family="Liberation Sans, sans-serif" font-size="4.8" font-weight="bold" font-style="normal" text-anchor="start" fill="#000" >1</text>
<line x1="117.82" y1="416.1" x2="117.82" y2="417.4" stroke="#111" stroke-width="0.8" />
<line x1="121.52" y1="416.1" x2="121.52" y2="417.4" stroke="#111" stroke-width="0.8" />
<line x1="124.14" y1="416.1" x2="124.14" y2="417.4" stroke="#111" stroke-width="0.8" />
<line x1="126.18" y1="416.1" x2="126.18" y2="417.4" stroke="#111" stroke-width="0.8" />
<line x1="127.84" y1="416.1" x2="127.84" y2="417.4" stroke="#111" stroke-width="0.8" />
<line x1="129.25" y1="416.1" x2="129.25" y2="417.4" stroke="#111" stroke-width="0.8" />
<line x1="130.46" y1="416.1" x2="130.46" y2="417.4" stroke="#111" stroke-width="0.8" />
<line x1="131.54" y1="416.1" x2="131.54" y2="417.4" stroke="#111" stroke-width="0.8" />
<line x1="132.5" y1="416.1" x2="132.5" y2="418.3" stroke="#111" stroke-width="1.1" />
<text x="125.47" y="428.3" font-family="Liberation Sans, sans-serif" font-size="8.8" font-weight="bold" font-style="normal" text-anchor="start" fill="#000" textLength="10.4" lengthAdjust="spacingAndGlyphs" >10</text>
<text x="136.87" y="425" font-family="Liberation Sans, sans-serif" font-size="4.8" font-weight="bold" font-style="normal" text-anchor="start" fill="#000" >2</text>
<line x1="138.82" y1="416.1" x2="138.82" y2="417.4" stroke="#111" stroke-width="0.8" />
<line x1="142.52" y1="416.1" x2="142.52" y2="417.4" stroke="#111" stroke-width="0.8" />
<line x1="145.14" y1="416.1" x2="145.14" y2="417.4" stroke="#111" stroke-width="0.8" />
<line x1="147.18" y1="416.1" x2="147.18" y2="417.4" stroke="#111" stroke-width="0.8" />
<line x1="148.84" y1="416.1" x2="148.84" y2="417.4" stroke="#111" stroke-width="0.8" />
<line x1="150.25" y1="416.1" x2="150.25" y2="417.4" stroke="#111" stroke-width="0.8" />
<line x1="151.46" y1="416.1" x2="151.46" y2="417.4" stroke="#111" stroke-width="0.8" />
<line x1="152.54" y1="416.1" x2="152.54" y2="417.4" stroke="#111" stroke-width="0.8" />
<line x1="153.5" y1="416.1" x2="153.5" y2="418.3" stroke="#111" stroke-width="1.1" />
<text x="146.47" y="428.3" font-family="Liberation Sans, sans-serif" font-size="8.8" font-weight="bold" font-style="normal" text-anchor="start" fill="#000" textLength="10.4" lengthAdjust="spacingAndGlyphs" >10</text>
<text x="157.87" y="425" font-family="Liberation Sans, sans-serif" font-size="4.8" font-weight="bold" font-style="normal" text-anchor="start" fill="#000" >3</text>
<line x1="159.82" y1="416.1" x2="159.82" y2="417.4" stroke="#111" stroke-width="0.8" />
<line x1="163.52" y1="416.1" x2="163.52" y2="417.4" stroke="#111" stroke-width="0.8" />
<line x1="166.14" y1="416.1" x2="166.14" y2="417.4" stroke="#111" stroke-width="0.8" />
<line x1="168.18" y1="416.1" x2="168.18" y2="417.4" stroke="#111" stroke-width="0.8" />
<line x1="169.84" y1="416.1" x2="169.84" y2="417.4" stroke="#111" stroke-width="0.8" />
<line x1="171.25" y1="416.1" x2="171.25" y2="417.4" stroke="#111" stroke-width="0.8" />
<line x1="172.46" y1="416.1" x2="172.46" y2="417.4" stroke="#111" stroke-width="0.8" />
<line x1="173.54" y1="416.1" x2="173.54" y2="417.4" stroke="#111" stroke-width="0.8" />
<line x1="174.5" y1="416.1" x2="174.5" y2="418.3" stroke="#111" stroke-width="1.1" />
<text x="167.47" y="428.3" font-family="Liberation Sans, sans-serif" font-size="8.8" font-weight="bold" font-style="normal" text-anchor="start" fill="#000" textLength="10.4" lengthAdjust="spacingAndGlyphs" >10</text>
<text x="178.87" y="425" font-family="Liberation Sans, sans-serif" font-size="4.8" font-weight="bold" font-style="normal" text-anchor="start" fill="#000" >4</text>
<line x1="180.82" y1="416.1" x2="180.82" y2="417.4" stroke="#111" stroke-width="0.8" />
<line x1="184.52" y1="416.1" x2="184.52" y2="417.4" stroke="#111" stroke-width="0.8" />
<line x1="187.14" y1="416.1" x2="187.14" y2="417.4" stroke="#111" stroke-width="0.8" />
<line x1="189.18" y1="416.1" x2="189.18" y2="417.4" stroke="#111" stroke-width="0.8" />
<line x1="190.84" y1="416.1" x2="190.84" y2="417.4" stroke="#111" stroke-width="0.8" />
<line x1="192.25" y1="416.1" x2="192.25" y2="417.4" stroke="#111" stroke-width="0.8" />
<line x1="193.46" y1="416.1" x2="193.46" y2="417.4" stroke="#111" stroke-width="0.8" />
<line x1="194.54" y1="416.1" x2="194.54" y2="417.4" stroke="#111" stroke-width="0.8" />
<line x1="195.5" y1="416.1" x2="195.5" y2="418.3" stroke="#111" stroke-width="1.1" />
<text x="188.47" y="428.3" font-family="Liberation Sans, sans-serif" font-size="8.8" font-weight="bold" font-style="normal" text-anchor="start" fill="#000" textLength="10.4" lengthAdjust="spacingAndGlyphs" >10</text>
<text x="199.87" y="425" font-family="Liberation Sans, sans-serif" font-size="4.8" font-weight="bold" font-style="normal" text-anchor="start" fill="#000" >5</text>
<line x1="201.82" y1="416.1" x2="201.82" y2="417.4" stroke="#111" stroke-width="0.8" />
<line x1="205.52" y1="416.1" x2="205.52" y2="417.4" stroke="#111" stroke-width="0.8" />
<line x1="208.14" y1="416.1" x2="208.14" y2="417.4" stroke="#111" stroke-width="0.8" />
<line x1="210.18" y1="416.1" x2="210.18" y2="417.4" stroke="#111" stroke-width="0.8" />
<line x1="211.84" y1="416.1" x2="211.84" y2="417.4" stroke="#111" stroke-width="0.8" />
<line x1="213.25" y1="416.1" x2="213.25" y2="417.4" stroke="#111" stroke-width="0.8" />
<line x1="214.46" y1="416.1" x2="214.46" y2="417.4" stroke="#111" stroke-width="0.8" />
<line x1="215.54" y1="416.1" x2="215.54" y2="417.4" stroke="#111" stroke-width="0.8" />
<line x1="216.5" y1="416.1" x2="216.5" y2="418.3" stroke="#111" stroke-width="1.1" />
<text x="209.47" y="428.3" font-family="Liberation Sans, sans-serif" font-size="8.8" font-weight="bold" font-style="normal" text-anchor="start" fill="#000" textLength="10.4" lengthAdjust="spacingAndGlyphs" >10</text>
<text x="220.87" y="425" font-family="Liberation Sans, sans-serif" font-size="4.8" font-weight="bold" font-style="normal" text-anchor="start" fill="#000" >6</text>
<text x="132.6" y="440.3" font-family="Liberation Sans, sans-serif" font-size="8.4" font-weight="bold" font-style="normal" text-anchor="middle" fill="#000" textLength="51.7" lengthAdjust="spacingAndGlyphs" >[agent] (nM)</text>
<text x="0" y="0" font-family="Liberation Sans, sans-serif" font-size="9.3" font-weight="bold" font-style="normal" text-anchor="middle" fill="#000" textLength="70.7" lengthAdjust="spacingAndGlyphs" transform="translate(20.1,329.9) rotate(-90)">Relative viability</text>
<polyline points="69.5,264.7 90.5,264.7 111.6,264.5 131.7,265 141.9,275.1 151.8,334.3 161.3,365" fill="none" stroke="#d0d0d0" stroke-width="1.4" stroke-linejoin="round" />
<circle cx="69.5" cy="264.7" r="1.1" fill="#d0d0d0" />
<circle cx="90.5" cy="264.7" r="1.1" fill="#d0d0d0" />
<circle cx="111.6" cy="264.5" r="1.1" fill="#d0d0d0" />
<circle cx="131.7" cy="265" r="1.1" fill="#d0d0d0" />
<line x1="141.9" y1="272.1" x2="141.9" y2="278.1" stroke="#d0d0d0" stroke-width="0.9" />
<line x1="140.6" y1="272.1" x2="143.2" y2="272.1" stroke="#d0d0d0" stroke-width="0.9" />
<line x1="140.6" y1="278.1" x2="143.2" y2="278.1" stroke="#d0d0d0" stroke-width="0.9" />
<circle cx="141.9" cy="275.1" r="1.1" fill="#d0d0d0" />
<line x1="151.8" y1="331.3" x2="151.8" y2="337.3" stroke="#d0d0d0" stroke-width="0.9" />
<line x1="150.5" y1="331.3" x2="153.1" y2="331.3" stroke="#d0d0d0" stroke-width="0.9" />
<line x1="150.5" y1="337.3" x2="153.1" y2="337.3" stroke="#d0d0d0" stroke-width="0.9" />
<circle cx="151.8" cy="334.3" r="1.1" fill="#d0d0d0" />
<line x1="161.3" y1="361" x2="161.3" y2="369" stroke="#d0d0d0" stroke-width="0.9" />
<line x1="160" y1="361" x2="162.6" y2="361" stroke="#d0d0d0" stroke-width="0.9" />
<line x1="160" y1="369" x2="162.6" y2="369" stroke="#d0d0d0" stroke-width="0.9" />
<circle cx="161.3" cy="365" r="1.1" fill="#d0d0d0" />
<polyline points="69.5,264.7 90.5,264.7 111.6,264.5 131.7,266.6 141.9,284.6 151.8,351.2 161.3,360.7" fill="none" stroke="#7a7a7a" stroke-width="1.5" stroke-linejoin="round" />
<circle cx="69.5" cy="264.7" r="1.1" fill="#7a7a7a" />
<circle cx="90.5" cy="264.7" r="1.1" fill="#7a7a7a" />
<circle cx="111.6" cy="264.5" r="1.1" fill="#7a7a7a" />
<circle cx="131.7" cy="266.6" r="1.1" fill="#7a7a7a" />
<line x1="141.9" y1="281.6" x2="141.9" y2="287.6" stroke="#7a7a7a" stroke-width="0.9" />
<line x1="140.6" y1="281.6" x2="143.2" y2="281.6" stroke="#7a7a7a" stroke-width="0.9" />
<line x1="140.6" y1="287.6" x2="143.2" y2="287.6" stroke="#7a7a7a" stroke-width="0.9" />
<circle cx="141.9" cy="284.6" r="1.1" fill="#7a7a7a" />
<circle cx="151.8" cy="351.2" r="1.1" fill="#7a7a7a" />
<line x1="161.3" y1="357.2" x2="161.3" y2="364.2" stroke="#7a7a7a" stroke-width="0.9" />
<line x1="160" y1="357.2" x2="162.6" y2="357.2" stroke="#7a7a7a" stroke-width="0.9" />
<line x1="160" y1="364.2" x2="162.6" y2="364.2" stroke="#7a7a7a" stroke-width="0.9" />
<circle cx="161.3" cy="360.7" r="1.1" fill="#7a7a7a" />
<polyline points="69.5,264.7 90.5,264.7 111.6,264.7 131.7,265 142,265.2 151.8,265.8 162,275.2 172,310.8 181.7,353.5 191.6,368" fill="none" stroke="#8fc1f2" stroke-width="1.5" stroke-linejoin="round" />
<circle cx="69.5" cy="264.7" r="1.1" fill="#8fc1f2" />
<circle cx="90.5" cy="264.7" r="1.1" fill="#8fc1f2" />
<circle cx="111.6" cy="264.7" r="1.1" fill="#8fc1f2" />
<circle cx="131.7" cy="265" r="1.1" fill="#8fc1f2" />
<circle cx="142" cy="265.2" r="1.1" fill="#8fc1f2" />
<circle cx="151.8" cy="265.8" r="1.1" fill="#8fc1f2" />
<circle cx="162" cy="275.2" r="1.1" fill="#8fc1f2" />
<line x1="172" y1="308.8" x2="172" y2="312.8" stroke="#8fc1f2" stroke-width="0.9" />
<line x1="170.7" y1="308.8" x2="173.3" y2="308.8" stroke="#8fc1f2" stroke-width="0.9" />
<line x1="170.7" y1="312.8" x2="173.3" y2="312.8" stroke="#8fc1f2" stroke-width="0.9" />
<circle cx="172" cy="310.8" r="1.1" fill="#8fc1f2" />
<circle cx="181.7" cy="353.5" r="1.1" fill="#8fc1f2" />
<line x1="191.6" y1="363.5" x2="191.6" y2="372.5" stroke="#8fc1f2" stroke-width="0.9" />
<line x1="190.3" y1="363.5" x2="192.9" y2="363.5" stroke="#8fc1f2" stroke-width="0.9" />
<line x1="190.3" y1="372.5" x2="192.9" y2="372.5" stroke="#8fc1f2" stroke-width="0.9" />
<circle cx="191.6" cy="368" r="1.1" fill="#8fc1f2" />
<polyline points="69.5,264.7 90.5,264.5 111.6,264 131.7,263 142.3,263 151.8,263.2 162,263.2 172,265 181.7,280.9 191.8,339.4" fill="none" stroke="#1b1b8e" stroke-width="1.6" stroke-linejoin="round" />
<rect x="68.1" y="263.3" width="2.8" height="2.8" fill="#1b1b8e" />
<rect x="89.1" y="263.1" width="2.8" height="2.8" fill="#1b1b8e" />
<rect x="110.2" y="262.6" width="2.8" height="2.8" fill="#1b1b8e" />
<rect x="130.3" y="261.6" width="2.8" height="2.8" fill="#1b1b8e" />
<rect x="140.9" y="261.6" width="2.8" height="2.8" fill="#1b1b8e" />
<rect x="150.4" y="261.8" width="2.8" height="2.8" fill="#1b1b8e" />
<line x1="162" y1="261.2" x2="162" y2="265.2" stroke="#1b1b8e" stroke-width="0.9" />
<line x1="160.7" y1="261.2" x2="163.3" y2="261.2" stroke="#1b1b8e" stroke-width="0.9" />
<line x1="160.7" y1="265.2" x2="163.3" y2="265.2" stroke="#1b1b8e" stroke-width="0.9" />
<rect x="160.6" y="261.8" width="2.8" height="2.8" fill="#1b1b8e" />
<line x1="172" y1="263" x2="172" y2="267" stroke="#1b1b8e" stroke-width="0.9" />
<line x1="170.7" y1="263" x2="173.3" y2="263" stroke="#1b1b8e" stroke-width="0.9" />
<line x1="170.7" y1="267" x2="173.3" y2="267" stroke="#1b1b8e" stroke-width="0.9" />
<rect x="170.6" y="263.6" width="2.8" height="2.8" fill="#1b1b8e" />
<line x1="181.7" y1="273.9" x2="181.7" y2="287.9" stroke="#1b1b8e" stroke-width="0.9" />
<line x1="180.4" y1="273.9" x2="183" y2="273.9" stroke="#1b1b8e" stroke-width="0.9" />
<line x1="180.4" y1="287.9" x2="183" y2="287.9" stroke="#1b1b8e" stroke-width="0.9" />
<rect x="180.3" y="279.5" width="2.8" height="2.8" fill="#1b1b8e" />
<line x1="191.8" y1="334.9" x2="191.8" y2="343.9" stroke="#1b1b8e" stroke-width="0.9" />
<line x1="190.5" y1="334.9" x2="193.1" y2="334.9" stroke="#1b1b8e" stroke-width="0.9" />
<line x1="190.5" y1="343.9" x2="193.1" y2="343.9" stroke="#1b1b8e" stroke-width="0.9" />
<rect x="190.4" y="338" width="2.8" height="2.8" fill="#1b1b8e" />
<line x1="51.7" y1="378.2" x2="67.2" y2="378.2" stroke="#8fc1f2" stroke-width="2.2" />
<circle cx="59.45" cy="378.2" r="1.1" fill="#8fc1f2" />
<text x="71.5" y="380.9" font-family="Liberation Sans, sans-serif" font-size="9.25" font-weight="normal" font-style="normal" text-anchor="start" fill="#000" >AKP (+)Ox</text>
<line x1="51.7" y1="388.1" x2="67.2" y2="388.1" stroke="#d0d0d0" stroke-width="2.2" />
<circle cx="59.45" cy="388.1" r="1.1" fill="#d0d0d0" />
<text x="71.5" y="390.8" font-family="Liberation Sans, sans-serif" font-size="9.25" font-weight="normal" font-style="normal" text-anchor="start" fill="#000" >AKP (+)DoxPt</text>
<line x1="51.7" y1="398" x2="67.2" y2="398" stroke="#1b1b8e" stroke-width="2.2" />
<circle cx="59.45" cy="398" r="1.1" fill="#1b1b8e" />
<text x="71.5" y="400.7" font-family="Liberation Sans, sans-serif" font-size="9.25" font-weight="normal" font-style="normal" text-anchor="start" fill="#000" >AKP/OxR (+)Ox</text>
<line x1="51.7" y1="407.9" x2="67.2" y2="407.9" stroke="#7a7a7a" stroke-width="2" />
<circle cx="59.45" cy="407.9" r="1.1" fill="#7a7a7a" />
<text x="71.5" y="410.6" font-family="Liberation Sans, sans-serif" font-size="9.25" font-weight="normal" font-style="normal" text-anchor="start" fill="#000" >AKP/OxR (+)DoxPt</text>
<text x="237.2" y="239.5" font-family="Liberation Sans, sans-serif" font-size="14" font-weight="bold" font-style="normal" text-anchor="start" fill="#000" >e</text>
<text x="362.4" y="243.3" font-family="Liberation Sans, sans-serif" font-size="8.4" font-weight="bold" font-style="normal" text-anchor="middle" fill="#000" textLength="55.4" lengthAdjust="spacingAndGlyphs" >AKP/DoxPtR</text>
<line x1="279.5" y1="248" x2="279.5" y2="416.6" stroke="#6a6a6a" stroke-width="1.4" />
<line x1="277.1" y1="264.5" x2="279.5" y2="264.5" stroke="#6a6a6a" stroke-width="1.2" />
<text x="276.3" y="267.7" font-family="Liberation Sans, sans-serif" font-size="9" font-weight="bold" font-style="normal" text-anchor="end" fill="#000" >1</text>
<line x1="277.1" y1="315" x2="279.5" y2="315" stroke="#6a6a6a" stroke-width="1.2" />
<text x="276.3" y="318.2" font-family="Liberation Sans, sans-serif" font-size="9" font-weight="bold" font-style="normal" text-anchor="end" fill="#000" >0.1</text>
<line x1="277.1" y1="365.5" x2="279.5" y2="365.5" stroke="#6a6a6a" stroke-width="1.2" />
<text x="276.3" y="368.7" font-family="Liberation Sans, sans-serif" font-size="9" font-weight="bold" font-style="normal" text-anchor="end" fill="#000" >0.01</text>
<line x1="277.1" y1="416" x2="279.5" y2="416" stroke="#6a6a6a" stroke-width="1.2" />
<text x="276.3" y="419.2" font-family="Liberation Sans, sans-serif" font-size="9" font-weight="bold" font-style="normal" text-anchor="end" fill="#000" >0.001</text>
<line x1="278.2" y1="249.3" x2="279.5" y2="249.3" stroke="#6a6a6a" stroke-width="0.8" />
<line x1="278.2" y1="299.8" x2="279.5" y2="299.8" stroke="#6a6a6a" stroke-width="0.8" />
<line x1="278.2" y1="290.91" x2="279.5" y2="290.91" stroke="#6a6a6a" stroke-width="0.8" />
<line x1="278.2" y1="284.6" x2="279.5" y2="284.6" stroke="#6a6a6a" stroke-width="0.8" />
<line x1="278.2" y1="279.7" x2="279.5" y2="279.7" stroke="#6a6a6a" stroke-width="0.8" />
<line x1="278.2" y1="275.7" x2="279.5" y2="275.7" stroke="#6a6a6a" stroke-width="0.8" />
<line x1="278.2" y1="272.32" x2="279.5" y2="272.32" stroke="#6a6a6a" stroke-width="0.8" />
<line x1="278.2" y1="269.39" x2="279.5" y2="269.39" stroke="#6a6a6a" stroke-width="0.8" />
<line x1="278.2" y1="266.81" x2="279.5" y2="266.81" stroke="#6a6a6a" stroke-width="0.8" />
<line x1="278.2" y1="350.3" x2="279.5" y2="350.3" stroke="#6a6a6a" stroke-width="0.8" />
<line x1="278.2" y1="341.41" x2="279.5" y2="341.41" stroke="#6a6a6a" stroke-width="0.8" />
<line x1="278.2" y1="335.1" x2="279.5" y2="335.1" stroke="#6a6a6a" stroke-width="0.8" />
<line x1="278.2" y1="330.2" x2="279.5" y2="330.2" stroke="#6a6a6a" stroke-width="0.8" />
<line x1="278.2" y1="326.2" x2="279.5" y2="326.2" stroke="#6a6a6a" stroke-width="0.8" />
<line x1="278.2" y1="322.82" x2="279.5" y2="322.82" stroke="#6a6a6a" stroke-width="0.8" />
<line x1="278.2" y1="319.89" x2="279.5" y2="319.89" stroke="#6a6a6a" stroke-width="0.8" />
<line x1="278.2" y1="317.31" x2="279.5" y2="317.31" stroke="#6a6a6a" stroke-width="0.8" />
<line x1="278.2" y1="400.8" x2="279.5" y2="400.8" stroke="#6a6a6a" stroke-width="0.8" />
<line x1="278.2" y1="391.91" x2="279.5" y2="391.91" stroke="#6a6a6a" stroke-width="0.8" />
<line x1="278.2" y1="385.6" x2="279.5" y2="385.6" stroke="#6a6a6a" stroke-width="0.8" />
<line x1="278.2" y1="380.7" x2="279.5" y2="380.7" stroke="#6a6a6a" stroke-width="0.8" />
<line x1="278.2" y1="376.7" x2="279.5" y2="376.7" stroke="#6a6a6a" stroke-width="0.8" />
<line x1="278.2" y1="373.32" x2="279.5" y2="373.32" stroke="#6a6a6a" stroke-width="0.8" />
<line x1="278.2" y1="370.39" x2="279.5" y2="370.39" stroke="#6a6a6a" stroke-width="0.8" />
<line x1="278.2" y1="367.81" x2="279.5" y2="367.81" stroke="#6a6a6a" stroke-width="0.8" />
<line x1="278.9" y1="416" x2="447.5" y2="416" stroke="#111" stroke-width="1.3" />
<line x1="279.5" y1="416" x2="279.5" y2="418.2" stroke="#111" stroke-width="1.1" />
<text x="271.67" y="428.2" font-family="Liberation Sans, sans-serif" font-size="8.8" font-weight="bold" font-style="normal" text-anchor="start" fill="#000" textLength="10.4" lengthAdjust="spacingAndGlyphs" >10</text>
<text x="283.07" y="424.9" font-family="Liberation Sans, sans-serif" font-size="4.8" font-weight="bold" font-style="normal" text-anchor="start" fill="#000" >-2</text>
<line x1="285.82" y1="416" x2="285.82" y2="417.3" stroke="#111" stroke-width="0.8" />
<line x1="289.52" y1="416" x2="289.52" y2="417.3" stroke="#111" stroke-width="0.8" />
<line x1="292.14" y1="416" x2="292.14" y2="417.3" stroke="#111" stroke-width="0.8" />
<line x1="294.18" y1="416" x2="294.18" y2="417.3" stroke="#111" stroke-width="0.8" />
<line x1="295.84" y1="416" x2="295.84" y2="417.3" stroke="#111" stroke-width="0.8" />
<line x1="297.25" y1="416" x2="297.25" y2="417.3" stroke="#111" stroke-width="0.8" />
<line x1="298.46" y1="416" x2="298.46" y2="417.3" stroke="#111" stroke-width="0.8" />
<line x1="299.54" y1="416" x2="299.54" y2="417.3" stroke="#111" stroke-width="0.8" />
<line x1="300.5" y1="416" x2="300.5" y2="418.2" stroke="#111" stroke-width="1.1" />
<text x="292.67" y="428.2" font-family="Liberation Sans, sans-serif" font-size="8.8" font-weight="bold" font-style="normal" text-anchor="start" fill="#000" textLength="10.4" lengthAdjust="spacingAndGlyphs" >10</text>
<text x="304.07" y="424.9" font-family="Liberation Sans, sans-serif" font-size="4.8" font-weight="bold" font-style="normal" text-anchor="start" fill="#000" >-1</text>
<line x1="306.82" y1="416" x2="306.82" y2="417.3" stroke="#111" stroke-width="0.8" />
<line x1="310.52" y1="416" x2="310.52" y2="417.3" stroke="#111" stroke-width="0.8" />
<line x1="313.14" y1="416" x2="313.14" y2="417.3" stroke="#111" stroke-width="0.8" />
<line x1="315.18" y1="416" x2="315.18" y2="417.3" stroke="#111" stroke-width="0.8" />
<line x1="316.84" y1="416" x2="316.84" y2="417.3" stroke="#111" stroke-width="0.8" />
<line x1="318.25" y1="416" x2="318.25" y2="417.3" stroke="#111" stroke-width="0.8" />
<line x1="319.46" y1="416" x2="319.46" y2="417.3" stroke="#111" stroke-width="0.8" />
<line x1="320.54" y1="416" x2="320.54" y2="417.3" stroke="#111" stroke-width="0.8" />
<line x1="321.5" y1="416" x2="321.5" y2="418.2" stroke="#111" stroke-width="1.1" />
<text x="314.47" y="428.2" font-family="Liberation Sans, sans-serif" font-size="8.8" font-weight="bold" font-style="normal" text-anchor="start" fill="#000" textLength="10.4" lengthAdjust="spacingAndGlyphs" >10</text>
<text x="325.87" y="424.9" font-family="Liberation Sans, sans-serif" font-size="4.8" font-weight="bold" font-style="normal" text-anchor="start" fill="#000" >0</text>
<line x1="327.82" y1="416" x2="327.82" y2="417.3" stroke="#111" stroke-width="0.8" />
<line x1="331.52" y1="416" x2="331.52" y2="417.3" stroke="#111" stroke-width="0.8" />
<line x1="334.14" y1="416" x2="334.14" y2="417.3" stroke="#111" stroke-width="0.8" />
<line x1="336.18" y1="416" x2="336.18" y2="417.3" stroke="#111" stroke-width="0.8" />
<line x1="337.84" y1="416" x2="337.84" y2="417.3" stroke="#111" stroke-width="0.8" />
<line x1="339.25" y1="416" x2="339.25" y2="417.3" stroke="#111" stroke-width="0.8" />
<line x1="340.46" y1="416" x2="340.46" y2="417.3" stroke="#111" stroke-width="0.8" />
<line x1="341.54" y1="416" x2="341.54" y2="417.3" stroke="#111" stroke-width="0.8" />
<line x1="342.5" y1="416" x2="342.5" y2="418.2" stroke="#111" stroke-width="1.1" />
<text x="335.47" y="428.2" font-family="Liberation Sans, sans-serif" font-size="8.8" font-weight="bold" font-style="normal" text-anchor="start" fill="#000" textLength="10.4" lengthAdjust="spacingAndGlyphs" >10</text>
<text x="346.87" y="424.9" font-family="Liberation Sans, sans-serif" font-size="4.8" font-weight="bold" font-style="normal" text-anchor="start" fill="#000" >1</text>
<line x1="348.82" y1="416" x2="348.82" y2="417.3" stroke="#111" stroke-width="0.8" />
<line x1="352.52" y1="416" x2="352.52" y2="417.3" stroke="#111" stroke-width="0.8" />
<line x1="355.14" y1="416" x2="355.14" y2="417.3" stroke="#111" stroke-width="0.8" />
<line x1="357.18" y1="416" x2="357.18" y2="417.3" stroke="#111" stroke-width="0.8" />
<line x1="358.84" y1="416" x2="358.84" y2="417.3" stroke="#111" stroke-width="0.8" />
<line x1="360.25" y1="416" x2="360.25" y2="417.3" stroke="#111" stroke-width="0.8" />
<line x1="361.46" y1="416" x2="361.46" y2="417.3" stroke="#111" stroke-width="0.8" />
<line x1="362.54" y1="416" x2="362.54" y2="417.3" stroke="#111" stroke-width="0.8" />
<line x1="363.5" y1="416" x2="363.5" y2="418.2" stroke="#111" stroke-width="1.1" />
<text x="356.47" y="428.2" font-family="Liberation Sans, sans-serif" font-size="8.8" font-weight="bold" font-style="normal" text-anchor="start" fill="#000" textLength="10.4" lengthAdjust="spacingAndGlyphs" >10</text>
<text x="367.87" y="424.9" font-family="Liberation Sans, sans-serif" font-size="4.8" font-weight="bold" font-style="normal" text-anchor="start" fill="#000" >2</text>
<line x1="369.82" y1="416" x2="369.82" y2="417.3" stroke="#111" stroke-width="0.8" />
<line x1="373.52" y1="416" x2="373.52" y2="417.3" stroke="#111" stroke-width="0.8" />
<line x1="376.14" y1="416" x2="376.14" y2="417.3" stroke="#111" stroke-width="0.8" />
<line x1="378.18" y1="416" x2="378.18" y2="417.3" stroke="#111" stroke-width="0.8" />
<line x1="379.84" y1="416" x2="379.84" y2="417.3" stroke="#111" stroke-width="0.8" />
<line x1="381.25" y1="416" x2="381.25" y2="417.3" stroke="#111" stroke-width="0.8" />
<line x1="382.46" y1="416" x2="382.46" y2="417.3" stroke="#111" stroke-width="0.8" />
<line x1="383.54" y1="416" x2="383.54" y2="417.3" stroke="#111" stroke-width="0.8" />
<line x1="384.5" y1="416" x2="384.5" y2="418.2" stroke="#111" stroke-width="1.1" />
<text x="377.47" y="428.2" font-family="Liberation Sans, sans-serif" font-size="8.8" font-weight="bold" font-style="normal" text-anchor="start" fill="#000" textLength="10.4" lengthAdjust="spacingAndGlyphs" >10</text>
<text x="388.87" y="424.9" font-family="Liberation Sans, sans-serif" font-size="4.8" font-weight="bold" font-style="normal" text-anchor="start" fill="#000" >3</text>
<line x1="390.82" y1="416" x2="390.82" y2="417.3" stroke="#111" stroke-width="0.8" />
<line x1="394.52" y1="416" x2="394.52" y2="417.3" stroke="#111" stroke-width="0.8" />
<line x1="397.14" y1="416" x2="397.14" y2="417.3" stroke="#111" stroke-width="0.8" />
<line x1="399.18" y1="416" x2="399.18" y2="417.3" stroke="#111" stroke-width="0.8" />
<line x1="400.84" y1="416" x2="400.84" y2="417.3" stroke="#111" stroke-width="0.8" />
<line x1="402.25" y1="416" x2="402.25" y2="417.3" stroke="#111" stroke-width="0.8" />
<line x1="403.46" y1="416" x2="403.46" y2="417.3" stroke="#111" stroke-width="0.8" />
<line x1="404.54" y1="416" x2="404.54" y2="417.3" stroke="#111" stroke-width="0.8" />
<line x1="405.5" y1="416" x2="405.5" y2="418.2" stroke="#111" stroke-width="1.1" />
<text x="398.47" y="428.2" font-family="Liberation Sans, sans-serif" font-size="8.8" font-weight="bold" font-style="normal" text-anchor="start" fill="#000" textLength="10.4" lengthAdjust="spacingAndGlyphs" >10</text>
<text x="409.87" y="424.9" font-family="Liberation Sans, sans-serif" font-size="4.8" font-weight="bold" font-style="normal" text-anchor="start" fill="#000" >4</text>
<line x1="411.82" y1="416" x2="411.82" y2="417.3" stroke="#111" stroke-width="0.8" />
<line x1="415.52" y1="416" x2="415.52" y2="417.3" stroke="#111" stroke-width="0.8" />
<line x1="418.14" y1="416" x2="418.14" y2="417.3" stroke="#111" stroke-width="0.8" />
<line x1="420.18" y1="416" x2="420.18" y2="417.3" stroke="#111" stroke-width="0.8" />
<line x1="421.84" y1="416" x2="421.84" y2="417.3" stroke="#111" stroke-width="0.8" />
<line x1="423.25" y1="416" x2="423.25" y2="417.3" stroke="#111" stroke-width="0.8" />
<line x1="424.46" y1="416" x2="424.46" y2="417.3" stroke="#111" stroke-width="0.8" />
<line x1="425.54" y1="416" x2="425.54" y2="417.3" stroke="#111" stroke-width="0.8" />
<line x1="426.5" y1="416" x2="426.5" y2="418.2" stroke="#111" stroke-width="1.1" />
<text x="419.47" y="428.2" font-family="Liberation Sans, sans-serif" font-size="8.8" font-weight="bold" font-style="normal" text-anchor="start" fill="#000" textLength="10.4" lengthAdjust="spacingAndGlyphs" >10</text>
<text x="430.87" y="424.9" font-family="Liberation Sans, sans-serif" font-size="4.8" font-weight="bold" font-style="normal" text-anchor="start" fill="#000" >5</text>
<line x1="432.82" y1="416" x2="432.82" y2="417.3" stroke="#111" stroke-width="0.8" />
<line x1="436.52" y1="416" x2="436.52" y2="417.3" stroke="#111" stroke-width="0.8" />
<line x1="439.14" y1="416" x2="439.14" y2="417.3" stroke="#111" stroke-width="0.8" />
<line x1="441.18" y1="416" x2="441.18" y2="417.3" stroke="#111" stroke-width="0.8" />
<line x1="442.84" y1="416" x2="442.84" y2="417.3" stroke="#111" stroke-width="0.8" />
<line x1="444.25" y1="416" x2="444.25" y2="417.3" stroke="#111" stroke-width="0.8" />
<line x1="445.46" y1="416" x2="445.46" y2="417.3" stroke="#111" stroke-width="0.8" />
<line x1="446.54" y1="416" x2="446.54" y2="417.3" stroke="#111" stroke-width="0.8" />
<line x1="447.5" y1="416" x2="447.5" y2="418.2" stroke="#111" stroke-width="1.1" />
<text x="440.47" y="428.2" font-family="Liberation Sans, sans-serif" font-size="8.8" font-weight="bold" font-style="normal" text-anchor="start" fill="#000" textLength="10.4" lengthAdjust="spacingAndGlyphs" >10</text>
<text x="451.87" y="424.9" font-family="Liberation Sans, sans-serif" font-size="4.8" font-weight="bold" font-style="normal" text-anchor="start" fill="#000" >6</text>
<text x="363.5" y="440.3" font-family="Liberation Sans, sans-serif" font-size="8.4" font-weight="bold" font-style="normal" text-anchor="middle" fill="#000" textLength="51.7" lengthAdjust="spacingAndGlyphs" >[agent] (nM)</text>
<text x="0" y="0" font-family="Liberation Sans, sans-serif" font-size="9.3" font-weight="bold" font-style="normal" text-anchor="middle" fill="#000" textLength="70.7" lengthAdjust="spacingAndGlyphs" transform="translate(250.1,329.9) rotate(-90)">Relative viability</text>
<polyline points="300.6,264.4 319.1,264.2 334.1,264.2 348.5,292.3 362.9,350.5 377.6,364.6 392.4,375.6 406.7,373.3" fill="none" stroke="#ff9e9e" stroke-width="1.5" stroke-linejoin="round" />
<circle cx="300.6" cy="264.4" r="1.1" fill="#ff9e9e" />
<circle cx="319.1" cy="264.2" r="1.1" fill="#ff9e9e" />
<circle cx="334.1" cy="264.2" r="1.1" fill="#ff9e9e" />
<line x1="348.5" y1="285.3" x2="348.5" y2="299.3" stroke="#ff9e9e" stroke-width="0.9" />
<line x1="347.2" y1="285.3" x2="349.8" y2="285.3" stroke="#ff9e9e" stroke-width="0.9" />
<line x1="347.2" y1="299.3" x2="349.8" y2="299.3" stroke="#ff9e9e" stroke-width="0.9" />
<circle cx="348.5" cy="292.3" r="1.1" fill="#ff9e9e" />
<line x1="362.9" y1="345.5" x2="362.9" y2="355.5" stroke="#ff9e9e" stroke-width="0.9" />
<line x1="361.6" y1="345.5" x2="364.2" y2="345.5" stroke="#ff9e9e" stroke-width="0.9" />
<line x1="361.6" y1="355.5" x2="364.2" y2="355.5" stroke="#ff9e9e" stroke-width="0.9" />
<circle cx="362.9" cy="350.5" r="1.1" fill="#ff9e9e" />
<line x1="377.6" y1="362.6" x2="377.6" y2="366.6" stroke="#ff9e9e" stroke-width="0.9" />
<line x1="376.3" y1="362.6" x2="378.9" y2="362.6" stroke="#ff9e9e" stroke-width="0.9" />
<line x1="376.3" y1="366.6" x2="378.9" y2="366.6" stroke="#ff9e9e" stroke-width="0.9" />
<circle cx="377.6" cy="364.6" r="1.1" fill="#ff9e9e" />
<line x1="392.4" y1="372.6" x2="392.4" y2="378.6" stroke="#ff9e9e" stroke-width="0.9" />
<line x1="391.1" y1="372.6" x2="393.7" y2="372.6" stroke="#ff9e9e" stroke-width="0.9" />
<line x1="391.1" y1="378.6" x2="393.7" y2="378.6" stroke="#ff9e9e" stroke-width="0.9" />
<circle cx="392.4" cy="375.6" r="1.1" fill="#ff9e9e" />
<circle cx="406.7" cy="373.3" r="1.1" fill="#ff9e9e" />
<polyline points="300.6,264.4 319.1,264.2 341,264.2 362.4,264.5 372.3,275.6 382.3,334.7 392.4,369.3" fill="none" stroke="#d0d0d0" stroke-width="1.4" stroke-linejoin="round" />
<circle cx="300.6" cy="264.4" r="1.1" fill="#d0d0d0" />
<circle cx="319.1" cy="264.2" r="1.1" fill="#d0d0d0" />
<circle cx="341" cy="264.2" r="1.1" fill="#d0d0d0" />
<circle cx="362.4" cy="264.5" r="1.1" fill="#d0d0d0" />
<line x1="372.3" y1="272.6" x2="372.3" y2="278.6" stroke="#d0d0d0" stroke-width="0.9" />
<line x1="371" y1="272.6" x2="373.6" y2="272.6" stroke="#d0d0d0" stroke-width="0.9" />
<line x1="371" y1="278.6" x2="373.6" y2="278.6" stroke="#d0d0d0" stroke-width="0.9" />
<circle cx="372.3" cy="275.6" r="1.1" fill="#d0d0d0" />
<line x1="382.3" y1="331.7" x2="382.3" y2="337.7" stroke="#d0d0d0" stroke-width="0.9" />
<line x1="381" y1="331.7" x2="383.6" y2="331.7" stroke="#d0d0d0" stroke-width="0.9" />
<line x1="381" y1="337.7" x2="383.6" y2="337.7" stroke="#d0d0d0" stroke-width="0.9" />
<circle cx="382.3" cy="334.7" r="1.1" fill="#d0d0d0" />
<line x1="392.4" y1="365.3" x2="392.4" y2="373.3" stroke="#d0d0d0" stroke-width="0.9" />
<line x1="391.1" y1="365.3" x2="393.7" y2="365.3" stroke="#d0d0d0" stroke-width="0.9" />
<line x1="391.1" y1="373.3" x2="393.7" y2="373.3" stroke="#d0d0d0" stroke-width="0.9" />
<circle cx="392.4" cy="369.3" r="1.1" fill="#d0d0d0" />
<polyline points="300.6,264.4 319.1,264.2 341,264 362.4,264 372.3,265 382.3,306.4 391.5,353" fill="none" stroke="#7a7a7a" stroke-width="1.5" stroke-linejoin="round" />
<circle cx="300.6" cy="264.4" r="1.1" fill="#7a7a7a" />
<circle cx="319.1" cy="264.2" r="1.1" fill="#7a7a7a" />
<circle cx="341" cy="264" r="1.1" fill="#7a7a7a" />
<circle cx="362.4" cy="264" r="1.1" fill="#7a7a7a" />
<circle cx="372.3" cy="265" r="1.1" fill="#7a7a7a" />
<line x1="382.3" y1="302.4" x2="382.3" y2="310.4" stroke="#7a7a7a" stroke-width="0.9" />
<line x1="381" y1="302.4" x2="383.6" y2="302.4" stroke="#7a7a7a" stroke-width="0.9" />
<line x1="381" y1="310.4" x2="383.6" y2="310.4" stroke="#7a7a7a" stroke-width="0.9" />
<circle cx="382.3" cy="306.4" r="1.1" fill="#7a7a7a" />
<circle cx="391.5" cy="353" r="1.1" fill="#7a7a7a" />
<polyline points="300.6,264.4 341,264.6 362.4,265 372.6,265.2 382.9,266.4 392.4,275.6 402.3,310.8 412.3,353.5 422,370.3" fill="none" stroke="#8fc1f2" stroke-width="1.5" stroke-linejoin="round" />
<circle cx="300.6" cy="264.4" r="1.1" fill="#8fc1f2" />
<circle cx="341" cy="264.6" r="1.1" fill="#8fc1f2" />
<circle cx="362.4" cy="265" r="1.1" fill="#8fc1f2" />
<circle cx="372.6" cy="265.2" r="1.1" fill="#8fc1f2" />
<line x1="382.9" y1="264.4" x2="382.9" y2="268.4" stroke="#8fc1f2" stroke-width="0.9" />
<line x1="381.6" y1="264.4" x2="384.2" y2="264.4" stroke="#8fc1f2" stroke-width="0.9" />
<line x1="381.6" y1="268.4" x2="384.2" y2="268.4" stroke="#8fc1f2" stroke-width="0.9" />
<circle cx="382.9" cy="266.4" r="1.1" fill="#8fc1f2" />
<line x1="392.4" y1="273.6" x2="392.4" y2="277.6" stroke="#8fc1f2" stroke-width="0.9" />
<line x1="391.1" y1="273.6" x2="393.7" y2="273.6" stroke="#8fc1f2" stroke-width="0.9" />
<line x1="391.1" y1="277.6" x2="393.7" y2="277.6" stroke="#8fc1f2" stroke-width="0.9" />
<circle cx="392.4" cy="275.6" r="1.1" fill="#8fc1f2" />
<line x1="402.3" y1="307.8" x2="402.3" y2="313.8" stroke="#8fc1f2" stroke-width="0.9" />
<line x1="401" y1="307.8" x2="403.6" y2="307.8" stroke="#8fc1f2" stroke-width="0.9" />
<line x1="401" y1="313.8" x2="403.6" y2="313.8" stroke="#8fc1f2" stroke-width="0.9" />
<circle cx="402.3" cy="310.8" r="1.1" fill="#8fc1f2" />
<circle cx="412.3" cy="353.5" r="1.1" fill="#8fc1f2" />
<line x1="422" y1="365.3" x2="422" y2="375.3" stroke="#8fc1f2" stroke-width="0.9" />
<line x1="420.7" y1="365.3" x2="423.3" y2="365.3" stroke="#8fc1f2" stroke-width="0.9" />
<line x1="420.7" y1="375.3" x2="423.3" y2="375.3" stroke="#8fc1f2" stroke-width="0.9" />
<circle cx="422" cy="370.3" r="1.1" fill="#8fc1f2" />
<polyline points="300.6,264.4 319.1,264.2 334.1,264.2 348.5,274.7 362.9,327.8 377.6,343.5 392.4,352.6 406.7,355.8" fill="none" stroke="#f01414" stroke-width="1.8" stroke-linejoin="round" />
<circle cx="300.6" cy="264.4" r="1.1" fill="#f01414" />
<circle cx="319.1" cy="264.2" r="1.1" fill="#f01414" />
<circle cx="334.1" cy="264.2" r="1.1" fill="#f01414" />
<line x1="348.5" y1="272.2" x2="348.5" y2="277.2" stroke="#f01414" stroke-width="0.9" />
<line x1="347.2" y1="272.2" x2="349.8" y2="272.2" stroke="#f01414" stroke-width="0.9" />
<line x1="347.2" y1="277.2" x2="349.8" y2="277.2" stroke="#f01414" stroke-width="0.9" />
<circle cx="348.5" cy="274.7" r="1.1" fill="#f01414" />
<line x1="362.9" y1="324.8" x2="362.9" y2="330.8" stroke="#f01414" stroke-width="0.9" />
<line x1="361.6" y1="324.8" x2="364.2" y2="324.8" stroke="#f01414" stroke-width="0.9" />
<line x1="361.6" y1="330.8" x2="364.2" y2="330.8" stroke="#f01414" stroke-width="0.9" />
<circle cx="362.9" cy="327.8" r="1.1" fill="#f01414" />
<line x1="377.6" y1="341.5" x2="377.6" y2="345.5" stroke="#f01414" stroke-width="0.9" />
<line x1="376.3" y1="341.5" x2="378.9" y2="341.5" stroke="#f01414" stroke-width="0.9" />
<line x1="376.3" y1="345.5" x2="378.9" y2="345.5" stroke="#f01414" stroke-width="0.9" />
<circle cx="377.6" cy="343.5" r="1.1" fill="#f01414" />
<line x1="392.4" y1="349.6" x2="392.4" y2="355.6" stroke="#f01414" stroke-width="0.9" />
<line x1="391.1" y1="349.6" x2="393.7" y2="349.6" stroke="#f01414" stroke-width="0.9" />
<line x1="391.1" y1="355.6" x2="393.7" y2="355.6" stroke="#f01414" stroke-width="0.9" />
<circle cx="392.4" cy="352.6" r="1.1" fill="#f01414" />
<line x1="406.7" y1="352.8" x2="406.7" y2="358.8" stroke="#f01414" stroke-width="0.9" />
<line x1="405.4" y1="352.8" x2="408" y2="352.8" stroke="#f01414" stroke-width="0.9" />
<line x1="405.4" y1="358.8" x2="408" y2="358.8" stroke="#f01414" stroke-width="0.9" />
<circle cx="406.7" cy="355.8" r="1.1" fill="#f01414" />
<polyline points="300.6,264.4 319.1,264.4 341,264.6 362.4,265 372.6,265 382.9,268.5 392.4,295 402.3,335.9 412.3,355.3 422,362.7" fill="none" stroke="#1b1b8e" stroke-width="1.8" stroke-linejoin="round" />
<rect x="299.1" y="262.9" width="3" height="3" fill="#1b1b8e" />
<rect x="317.6" y="262.9" width="3" height="3" fill="#1b1b8e" />
<rect x="339.5" y="263.1" width="3" height="3" fill="#1b1b8e" />
<rect x="360.9" y="263.5" width="3" height="3" fill="#1b1b8e" />
<rect x="371.1" y="263.5" width="3" height="3" fill="#1b1b8e" />
<rect x="381.4" y="267" width="3" height="3" fill="#1b1b8e" />
<line x1="392.4" y1="292" x2="392.4" y2="298" stroke="#1b1b8e" stroke-width="0.9" />
<line x1="391.1" y1="292" x2="393.7" y2="292" stroke="#1b1b8e" stroke-width="0.9" />
<line x1="391.1" y1="298" x2="393.7" y2="298" stroke="#1b1b8e" stroke-width="0.9" />
<rect x="390.9" y="293.5" width="3" height="3" fill="#1b1b8e" />
<line x1="402.3" y1="332.9" x2="402.3" y2="338.9" stroke="#1b1b8e" stroke-width="0.9" />
<line x1="401" y1="332.9" x2="403.6" y2="332.9" stroke="#1b1b8e" stroke-width="0.9" />
<line x1="401" y1="338.9" x2="403.6" y2="338.9" stroke="#1b1b8e" stroke-width="0.9" />
<rect x="400.8" y="334.4" width="3" height="3" fill="#1b1b8e" />
<rect x="410.8" y="353.8" width="3" height="3" fill="#1b1b8e" />
<rect x="420.5" y="361.2" width="3" height="3" fill="#1b1b8e" />
<line x1="283.2" y1="358.5" x2="298.6" y2="358.5" stroke="#ff9e9e" stroke-width="1.8" />
<circle cx="290.9" cy="358.5" r="1.1" fill="#ff9e9e" />
<text x="302.9" y="361.2" font-family="Liberation Sans, sans-serif" font-size="9.25" font-weight="normal" font-style="normal" text-anchor="start" fill="#000" >AKP Dox</text>
<line x1="283.2" y1="368.78" x2="298.6" y2="368.78" stroke="#d0d0d0" stroke-width="2.2" />
<circle cx="290.9" cy="368.78" r="1.1" fill="#d0d0d0" />
<text x="302.9" y="371.48" font-family="Liberation Sans, sans-serif" font-size="9.25" font-weight="normal" font-style="normal" text-anchor="start" fill="#000" >AKP DoxPt</text>
<line x1="283.2" y1="379.06" x2="298.6" y2="379.06" stroke="#8fc1f2" stroke-width="2.2" />
<circle cx="290.9" cy="379.06" r="1.1" fill="#8fc1f2" />
<text x="302.9" y="381.76" font-family="Liberation Sans, sans-serif" font-size="9.25" font-weight="normal" font-style="normal" text-anchor="start" fill="#000" >AKP Ox</text>
<line x1="283.2" y1="389.34" x2="298.6" y2="389.34" stroke="#f01414" stroke-width="2.2" />
<circle cx="290.9" cy="389.34" r="1.1" fill="#f01414" />
<text x="302.9" y="392.04" font-family="Liberation Sans, sans-serif" font-size="9.25" font-weight="normal" font-style="normal" text-anchor="start" fill="#000" >AKP/DoxPtR-C Dox</text>
<line x1="283.2" y1="399.62" x2="298.6" y2="399.62" stroke="#7a7a7a" stroke-width="2" />
<circle cx="290.9" cy="399.62" r="1.1" fill="#7a7a7a" />
<text x="302.9" y="402.32" font-family="Liberation Sans, sans-serif" font-size="9.25" font-weight="normal" font-style="normal" text-anchor="start" fill="#000" >AKP/DoxPtR-C DoxPt</text>
<line x1="283.2" y1="409.9" x2="298.6" y2="409.9" stroke="#1b1b8e" stroke-width="2.4" />
<circle cx="290.9" cy="409.9" r="1.1" fill="#1b1b8e" />
<text x="302.9" y="412.6" font-family="Liberation Sans, sans-serif" font-size="9.25" font-weight="normal" font-style="normal" text-anchor="start" fill="#000" >AKP/DoxPtR-C Ox</text>
<text x="452.2" y="239.4" font-family="Liberation Sans, sans-serif" font-size="14" font-weight="bold" font-style="normal" text-anchor="start" fill="#000" >f</text>
<defs><filter id="soft" x="-5%" y="-5%" width="110%" height="110%"><feGaussianBlur stdDeviation="0.45"/></filter></defs>
<rect x="477.2" y="232.4" width="99.6" height="99.6" fill="#120709" stroke="#050202" stroke-width="0.8"/>
<g clip-path="url(#c477232)" filter="url(#soft)">
<circle cx="491.3" cy="247.4" r="4" fill="#b81eb8" stroke="#d02ad0" stroke-width="0.7"/>
<circle cx="507.6" cy="239.4" r="2.5" fill="#b81eb8" stroke="#d02ad0" stroke-width="0.7"/>
<circle cx="522.6" cy="236.4" r="3.3" fill="#c8b41a" />
<circle cx="517.3" cy="245.6" r="4" fill="#b81eb8" stroke="#d02ad0" stroke-width="0.7"/>
<circle cx="523.9" cy="246.1" r="4" fill="#b81eb8" stroke="#d02ad0" stroke-width="0.7"/>
<circle cx="508.9" cy="253.1" r="4" fill="#857418" stroke="#a08c1a" stroke-width="0.6"/>
<circle cx="499.2" cy="251.8" r="2" fill="#7a6c10" />
<circle cx="495.2" cy="256.2" r="2.2" fill="#b81eb8" stroke="#d02ad0" stroke-width="0.7"/>
<circle cx="480.7" cy="256.7" r="2.5" fill="#b81eb8" stroke="#d02ad0" stroke-width="0.7"/>
<circle cx="482.5" cy="262.4" r="5" fill="#b81eb8" stroke="#d02ad0" stroke-width="0.7"/>
<circle cx="479" cy="264.1" r="3" fill="#b81eb8" stroke="#d02ad0" stroke-width="0.7"/>
<circle cx="498.8" cy="265" r="3.2" fill="#b81eb8" stroke="#d02ad0" stroke-width="0.7"/>
<circle cx="503.7" cy="268.6" r="3" fill="#b81eb8" stroke="#d02ad0" stroke-width="0.7"/>
<circle cx="499.2" cy="273" r="4.2" fill="#b81eb8" stroke="#d02ad0" stroke-width="0.7"/>
<circle cx="491.3" cy="271.2" r="3" fill="#b81eb8" stroke="#d02ad0" stroke-width="0.7"/>
<circle cx="516" cy="261.9" r="2.5" fill="#b81eb8" stroke="#d02ad0" stroke-width="0.7"/>
<circle cx="513.4" cy="255.8" r="2.5" fill="#b81eb8" stroke="#d02ad0" stroke-width="0.7"/>
<circle cx="520.4" cy="258" r="2" fill="#b81eb8" stroke="#d02ad0" stroke-width="0.7"/>
<circle cx="524.8" cy="273.8" r="5" fill="#e82ae8" stroke="#d02ad0" stroke-width="0.7"/>
<circle cx="526.2" cy="265" r="2.5" fill="#b81eb8" stroke="#d02ad0" stroke-width="0.7"/>
<circle cx="482.5" cy="280" r="2.5" fill="#b81eb8" stroke="#d02ad0" stroke-width="0.7"/>
<circle cx="506.2" cy="280" r="2" fill="#b81eb8" stroke="#d02ad0" stroke-width="0.7"/>
<circle cx="512.5" cy="280.4" r="2" fill="#b81eb8" stroke="#d02ad0" stroke-width="0.7"/>
<circle cx="510.7" cy="275.2" r="2" fill="#e8d210" />
<circle cx="483.4" cy="269.4" r="1.5" fill="#e8d210" />
<circle cx="501.5" cy="278.3" r="1.5" fill="#fff01c" />
<circle cx="520.4" cy="253.1" r="1.5" fill="#e8d210" />
<circle cx="520.9" cy="268.6" r="1.5" fill="#e8d210" />
<circle cx="488.7" cy="277.4" r="1.8" fill="#b81eb8" stroke="#d02ad0" stroke-width="0.7"/>
<circle cx="509.8" cy="263.3" r="1.2" fill="#b81eb8" stroke="#d02ad0" stroke-width="0.7"/>
<circle cx="549.2" cy="240.4" r="7" fill="#b81eb8" stroke="#d02ad0" stroke-width="0.7"/>
<circle cx="540.4" cy="236.4" r="2" fill="#b81eb8" stroke="#d02ad0" stroke-width="0.7"/>
<circle cx="528.5" cy="245.6" r="2.5" fill="#b81eb8" stroke="#d02ad0" stroke-width="0.7"/>
<circle cx="532.1" cy="252.2" r="2.8" fill="#b81eb8" stroke="#d02ad0" stroke-width="0.7"/>
<circle cx="531.2" cy="258" r="3" fill="#e82ae8" stroke="#d02ad0" stroke-width="0.7"/>
<circle cx="537.8" cy="255.3" r="4" fill="#701870" />
<circle cx="546.6" cy="256.2" r="3" fill="#701870" />
<circle cx="550.1" cy="260.6" r="2.7" fill="#b81eb8" stroke="#d02ad0" stroke-width="0.7"/>
<circle cx="547.5" cy="265.9" r="3.5" fill="#b81eb8" stroke="#d02ad0" stroke-width="0.7"/>
<circle cx="529.8" cy="265" r="3" fill="#b81eb8" stroke="#d02ad0" stroke-width="0.7"/>
<circle cx="529" cy="273" r="4.5" fill="#e82ae8" stroke="#d02ad0" stroke-width="0.7"/>
<circle cx="541.3" cy="273.8" r="3" fill="#b81eb8" stroke="#d02ad0" stroke-width="0.7"/>
<circle cx="547.9" cy="278.3" r="4.5" fill="#b81eb8" stroke="#d02ad0" stroke-width="0.7"/>
<circle cx="559.4" cy="256.2" r="3" fill="#b81eb8" stroke="#d02ad0" stroke-width="0.7"/>
<circle cx="566.4" cy="251.8" r="3.2" fill="#b81eb8" stroke="#d02ad0" stroke-width="0.7"/>
<circle cx="563.4" cy="269.4" r="3" fill="#b81eb8" stroke="#d02ad0" stroke-width="0.7"/>
<circle cx="564.2" cy="273.8" r="2.5" fill="#b81eb8" stroke="#d02ad0" stroke-width="0.7"/>
<circle cx="561.6" cy="260.6" r="1.8" fill="#fff01c" />
<circle cx="566.9" cy="258.4" r="1.8" fill="#fff01c" />
<circle cx="565.6" cy="248.3" r="1.5" fill="#e8d210" />
<circle cx="559.8" cy="245.2" r="1.3" fill="#e8d210" />
<circle cx="559.4" cy="266.8" r="1.5" fill="#e8d210" />
<circle cx="567.8" cy="272.5" r="1.5" fill="#e8d210" />
<circle cx="541.3" cy="264.6" r="1.8" fill="#7a6c10" />
<circle cx="570" cy="280.5" r="1.5" fill="#e8d210" />
<circle cx="542.6" cy="243.9" r="0.8" fill="#e8d210" />
<circle cx="483.8" cy="290.8" r="5" fill="#b81eb8" stroke="#d02ad0" stroke-width="0.7"/>
<circle cx="481.2" cy="284.6" r="1.5" fill="#b81eb8" stroke="#d02ad0" stroke-width="0.7"/>
<circle cx="489.5" cy="296.1" r="2.5" fill="#b81eb8" stroke="#d02ad0" stroke-width="0.7"/>
<circle cx="493.5" cy="296.5" r="2.8" fill="#701870" />
<circle cx="497" cy="296.9" r="2" fill="#b81eb8" stroke="#d02ad0" stroke-width="0.7"/>
<circle cx="489.5" cy="309.3" r="5.5" fill="#b81eb8" stroke="#d02ad0" stroke-width="0.7"/>
<circle cx="502.3" cy="287.3" r="3" fill="#857418" stroke="#a08c1a" stroke-width="0.6"/>
<circle cx="508.1" cy="289.4" r="1.3" fill="#b81eb8" stroke="#d02ad0" stroke-width="0.7"/>
<circle cx="506.7" cy="296.5" r="3.5" fill="#b81eb8" stroke="#d02ad0" stroke-width="0.7"/>
<circle cx="505.9" cy="304.4" r="3" fill="#b81eb8" stroke="#d02ad0" stroke-width="0.7"/>
<circle cx="507.6" cy="309.3" r="2" fill="#e82ae8" stroke="#d02ad0" stroke-width="0.7"/>
<circle cx="515.1" cy="286.8" r="4.5" fill="#b81eb8" stroke="#d02ad0" stroke-width="0.7"/>
<circle cx="523.9" cy="286.4" r="3.5" fill="#b81eb8" stroke="#d02ad0" stroke-width="0.7"/>
<circle cx="516" cy="297.4" r="3" fill="#b81eb8" stroke="#d02ad0" stroke-width="0.7"/>
<circle cx="524.8" cy="294.7" r="3.5" fill="#b81eb8" stroke="#d02ad0" stroke-width="0.7"/>
<circle cx="518.6" cy="312.4" r="2" fill="#b81eb8" stroke="#d02ad0" stroke-width="0.7"/>
<circle cx="526.2" cy="311.4" r="2.5" fill="#b81eb8" stroke="#d02ad0" stroke-width="0.7"/>
<circle cx="518.6" cy="329.1" r="3" fill="#b81eb8" stroke="#d02ad0" stroke-width="0.7"/>
<circle cx="501.5" cy="302.7" r="1.3" fill="#e8d210" />
<circle cx="515.1" cy="309.3" r="2" fill="#e8d210" />
<circle cx="512.9" cy="309.3" r="1.3" fill="#e8d210" />
<circle cx="522.2" cy="304.4" r="2" fill="#7a6c10" />
<circle cx="522.6" cy="314.1" r="1.3" fill="#e8d210" />
<circle cx="526.2" cy="300" r="1.5" fill="#e8d210" />
<circle cx="494.4" cy="283.1" r="1.3" fill="#7a6c10" />
<circle cx="513.4" cy="317.7" r="1.5" fill="#7a6c10" />
<circle cx="529" cy="285" r="3" fill="#b81eb8" stroke="#d02ad0" stroke-width="0.7"/>
<circle cx="555.4" cy="285" r="3" fill="#b81eb8" stroke="#d02ad0" stroke-width="0.7"/>
<circle cx="564.2" cy="288.6" r="4" fill="#b81eb8" stroke="#d02ad0" stroke-width="0.7"/>
<circle cx="571.7" cy="288.1" r="4" fill="#b81eb8" stroke="#d02ad0" stroke-width="0.7"/>
<circle cx="547.5" cy="282.8" r="2" fill="#b81eb8" stroke="#d02ad0" stroke-width="0.7"/>
<circle cx="529" cy="295.6" r="3" fill="#b81eb8" stroke="#d02ad0" stroke-width="0.7"/>
<circle cx="529.8" cy="300.9" r="2" fill="#b81eb8" stroke="#d02ad0" stroke-width="0.7"/>
<circle cx="552.8" cy="296.5" r="3.5" fill="#b81eb8" stroke="#d02ad0" stroke-width="0.7"/>
<circle cx="557.6" cy="295.6" r="3.5" fill="#b81eb8" stroke="#d02ad0" stroke-width="0.7"/>
<circle cx="548.8" cy="300.9" r="2.5" fill="#b81eb8" stroke="#d02ad0" stroke-width="0.7"/>
<circle cx="571.3" cy="297.8" r="4" fill="#b81eb8" stroke="#d02ad0" stroke-width="0.7"/>
<circle cx="570.4" cy="306.7" r="3" fill="#b81eb8" stroke="#d02ad0" stroke-width="0.7"/>
<circle cx="552.8" cy="306.2" r="1.2" fill="#b81eb8" stroke="#d02ad0" stroke-width="0.7"/>
<circle cx="547.5" cy="308.9" r="1.5" fill="#b81eb8" stroke="#d02ad0" stroke-width="0.7"/>
<circle cx="530.3" cy="311.9" r="4.5" fill="#b81eb8" stroke="#d02ad0" stroke-width="0.7"/>
<circle cx="536" cy="311.5" r="2" fill="#701870" />
<circle cx="543.1" cy="315.5" r="3.5" fill="#701870" />
<circle cx="559.8" cy="316.4" r="5" fill="#e82ae8" stroke="#d02ad0" stroke-width="0.7"/>
<circle cx="533.4" cy="326.5" r="2.5" fill="#b81eb8" stroke="#d02ad0" stroke-width="0.7"/>
<circle cx="541.3" cy="327.4" r="2.5" fill="#e8d210" />
<circle cx="558.1" cy="308" r="1.8" fill="#c8b41a" />
<circle cx="551.9" cy="311.1" r="1.3" fill="#e8d210" />
<circle cx="566" cy="310.6" r="1.3" fill="#e8d210" />
<circle cx="538.7" cy="305.3" r="1" fill="#e8d210" />
<circle cx="536.9" cy="330.9" r="1.2" fill="#e8d210" />
</g>
<clipPath id="c477232"><rect x="477.2" y="232.4" width="99.6" height="99.6"/></clipPath>
<text x="481.9" y="326.7" font-family="Liberation Sans, sans-serif" font-size="11.2" font-weight="bold" font-style="normal" text-anchor="start" fill="#fff" textLength="51.3" lengthAdjust="spacingAndGlyphs" >untreated</text>
<line x1="566.2" y1="324.8" x2="572.1" y2="324.8" stroke="#a8a8a8" stroke-width="1.2" />
<rect x="580.2" y="232.4" width="99.6" height="99.6" fill="#0e0805" stroke="#050202" stroke-width="0.8"/>
<g clip-path="url(#c580232)" filter="url(#soft)">
<circle cx="599.6" cy="247" r="2.5" fill="#fff01c" />
<circle cx="594.8" cy="257.5" r="3" fill="#fff01c" />
<circle cx="599.2" cy="257.1" r="2.5" fill="#fff01c" />
<circle cx="606.7" cy="257.1" r="3.5" fill="#b09c16" stroke="#f4e01a" stroke-width="1.0"/>
<circle cx="590.3" cy="254" r="1.5" fill="#e8d210" />
<circle cx="621.2" cy="250.5" r="2" fill="#fff01c" />
<circle cx="612.4" cy="259.3" r="1.3" fill="#e8d210" />
<circle cx="609.7" cy="267.2" r="2.5" fill="#b09c16" stroke="#f4e01a" stroke-width="1.0"/>
<circle cx="610.2" cy="276.5" r="3.2" fill="#b09c16" stroke="#f4e01a" stroke-width="1.0"/>
<circle cx="585.1" cy="275.2" r="2" fill="#fff01c" />
<circle cx="582.8" cy="279.1" r="1.8" fill="#fff01c" />
<circle cx="593.4" cy="280.5" r="1.8" fill="#fff01c" />
<circle cx="603.1" cy="277.4" r="1.8" fill="#e8d210" />
<circle cx="626.5" cy="270.8" r="1.8" fill="#c8b41a" />
<circle cx="629.6" cy="261.9" r="1" fill="#e8d210" />
<circle cx="587.2" cy="268.1" r="1" fill="#7a6c10" />
<circle cx="617.2" cy="280" r="2" fill="#857418" stroke="#a08c1a" stroke-width="0.6"/>
<circle cx="612.8" cy="246.1" r="0.8" fill="#7a6c10" />
<circle cx="624.3" cy="239" r="0.8" fill="#7a6c10" />
<circle cx="639" cy="258" r="3" fill="#fff01c" />
<circle cx="639" cy="253.6" r="2" fill="#fff01c" />
<circle cx="641.7" cy="267.7" r="3.5" fill="#c8b41a" />
<circle cx="655.8" cy="274.7" r="3" fill="#fff01c" />
<circle cx="660.2" cy="281.4" r="2.5" fill="#fff01c" />
<circle cx="642.1" cy="274.7" r="1.5" fill="#e8d210" />
<circle cx="631.1" cy="262.4" r="1.5" fill="#e8d210" />
<circle cx="635.1" cy="237.3" r="1.2" fill="#e8d210" />
<circle cx="645.2" cy="235.9" r="2" fill="#857418" stroke="#a08c1a" stroke-width="0.6"/>
<circle cx="634.6" cy="246.5" r="1.5" fill="#7a6c10" />
<circle cx="661.9" cy="243.9" r="1.3" fill="#e8d210" />
<circle cx="661.1" cy="249.2" r="1" fill="#e8d210" />
<circle cx="654.9" cy="259.7" r="1.2" fill="#e8d210" />
<circle cx="632.4" cy="280.5" r="1.5" fill="#e8d210" />
<circle cx="635.1" cy="257.5" r="1.2" fill="#e8d210" />
<circle cx="650" cy="253.6" r="0.8" fill="#7a6c10" />
<circle cx="587.2" cy="283.7" r="1.8" fill="#e8d210" />
<circle cx="593.9" cy="282.8" r="1.2" fill="#e8d210" />
<circle cx="616.4" cy="283.3" r="1.8" fill="#fff01c" />
<circle cx="605.3" cy="284.2" r="1.2" fill="#e8d210" />
<circle cx="584.2" cy="287.7" r="1.5" fill="#857418" stroke="#a08c1a" stroke-width="0.6"/>
<circle cx="623.9" cy="290.8" r="2.3" fill="#c8b41a" />
<circle cx="628.3" cy="286.4" r="1.3" fill="#e8d210" />
<circle cx="611.9" cy="293" r="1.8" fill="#e8d210" />
<circle cx="607.1" cy="314.6" r="2.3" fill="#fff01c" />
<circle cx="610.6" cy="326.1" r="2" fill="#fff01c" />
<circle cx="629.6" cy="302.2" r="1.2" fill="#e8d210" />
<circle cx="629.6" cy="328.7" r="1" fill="#e8d210" />
<circle cx="605.8" cy="294.7" r="0.8" fill="#701870" />
<circle cx="671.2" cy="311.5" r="5" fill="#b09c16" stroke="#f4e01a" stroke-width="1.0"/>
<circle cx="643.4" cy="306.2" r="3" fill="#c8b41a" />
<circle cx="645.6" cy="324.3" r="2.5" fill="#fff01c" />
<circle cx="632.8" cy="312.4" r="1.8" fill="#e8d210" />
<circle cx="630.6" cy="301.8" r="1.5" fill="#e8d210" />
<circle cx="662.8" cy="283.7" r="3" fill="#fff01c" />
<circle cx="632.4" cy="283.7" r="1.2" fill="#e8d210" />
<circle cx="640.3" cy="285.5" r="1.3" fill="#7a6c10" />
<circle cx="656.7" cy="328.3" r="0.8" fill="#e8d210" />
<circle cx="672.5" cy="298.3" r="0.8" fill="#701870" />
</g>
<clipPath id="c580232"><rect x="580.2" y="232.4" width="99.6" height="99.6"/></clipPath>
<text x="584.2" y="327.9" font-family="Liberation Sans, sans-serif" font-size="11.2" font-weight="bold" font-style="normal" text-anchor="start" fill="#fff" textLength="20.5" lengthAdjust="spacingAndGlyphs" >Dox</text>
<line x1="669.2" y1="324.8" x2="675.1" y2="324.8" stroke="#a8a8a8" stroke-width="1.2" />
<rect x="477.2" y="336.1" width="99.6" height="99.6" fill="#0e0805" stroke="#050202" stroke-width="0.8"/>
<g clip-path="url(#c477336)" filter="url(#soft)">
<circle cx="503.2" cy="375.8" r="2" fill="#fff01c" />
<circle cx="497" cy="376.2" r="1.3" fill="#e8d210" />
<circle cx="522.2" cy="342.3" r="1.2" fill="#e8d210" />
<circle cx="526.6" cy="364.3" r="1.5" fill="#e8d210" />
<circle cx="479" cy="385.5" r="1" fill="#e8d210" />
<circle cx="543.5" cy="355.5" r="4.3" fill="#b09c16" stroke="#f4e01a" stroke-width="1.0"/>
<circle cx="547.9" cy="341.8" r="2.8" fill="#c8b41a" />
<circle cx="554.5" cy="346.2" r="2.8" fill="#c8b41a" />
<circle cx="566.9" cy="362.1" r="1.8" fill="#fff01c" />
<circle cx="547.9" cy="374.5" r="2.5" fill="#fff01c" />
<circle cx="533.4" cy="353.3" r="1.8" fill="#7a6c10" />
<circle cx="527.6" cy="364.3" r="1.5" fill="#e8d210" />
<circle cx="531.2" cy="372.7" r="1.2" fill="#7a6c10" />
<circle cx="551.5" cy="356.8" r="1.5" fill="#7a6c10" />
<circle cx="558.9" cy="371.8" r="1" fill="#7a6c10" />
<circle cx="532.5" cy="384.2" r="2" fill="#7a6c10" />
<circle cx="563.4" cy="385" r="1.8" fill="#e8d210" />
<circle cx="540.9" cy="379.3" r="1" fill="#7a6c10" />
<circle cx="561.2" cy="378.9" r="1" fill="#7a6c10" />
<circle cx="508.5" cy="409" r="4.5" fill="#b09c16" stroke="#f4e01a" stroke-width="1.0"/>
<circle cx="509.8" cy="415.6" r="2.5" fill="#857418" stroke="#a08c1a" stroke-width="0.6"/>
<circle cx="482.1" cy="395.4" r="2.5" fill="#fff01c" />
<circle cx="492.6" cy="391" r="2" fill="#fff01c" />
<circle cx="523.1" cy="405.1" r="3" fill="#b09c16" stroke="#f4e01a" stroke-width="1.0"/>
<circle cx="517.8" cy="416.5" r="2.2" fill="#fff01c" />
<circle cx="495.7" cy="416.1" r="1.5" fill="#e8d210" />
<circle cx="514.7" cy="420.1" r="1.3" fill="#e8d210" />
<circle cx="492.6" cy="398.9" r="1.2" fill="#e8d210" />
<circle cx="479" cy="387.4" r="1.5" fill="#e8d210" />
<circle cx="496.2" cy="405.1" r="1" fill="#7a6c10" />
<circle cx="490.4" cy="410.4" r="0.8" fill="#7a6c10" />
<circle cx="547.5" cy="389.6" r="2.5" fill="#fff01c" />
<circle cx="573.1" cy="394.9" r="1.8" fill="#fff01c" />
<circle cx="571.3" cy="405.1" r="2" fill="#fff01c" />
<circle cx="549.7" cy="427.5" r="1.8" fill="#fff01c" />
<circle cx="548.8" cy="411.7" r="1.2" fill="#e8d210" />
<circle cx="532.1" cy="405.1" r="1.3" fill="#e8d210" />
<circle cx="531.2" cy="407.7" r="0.8" fill="#e8d210" />
<circle cx="563.8" cy="386.5" r="1.2" fill="#e8d210" />
<circle cx="532.9" cy="386.5" r="1" fill="#e8d210" />
<circle cx="566.4" cy="433.7" r="0.8" fill="#e8d210" />
<circle cx="565.6" cy="397.6" r="0.8" fill="#7a6c10" />
</g>
<clipPath id="c477336"><rect x="477.2" y="336.1" width="99.6" height="99.6"/></clipPath>
<text x="481.9" y="431.4" font-family="Liberation Sans, sans-serif" font-size="11.2" font-weight="bold" font-style="normal" text-anchor="start" fill="#fff" textLength="49.1" lengthAdjust="spacingAndGlyphs" >Dox + Ox</text>
<line x1="566.2" y1="428.5" x2="572.1" y2="428.5" stroke="#a8a8a8" stroke-width="1.2" />
<rect x="580.2" y="336.1" width="99.6" height="99.6" fill="#0d0704" stroke="#050202" stroke-width="0.8"/>
<g clip-path="url(#c580336)" filter="url(#soft)">
<circle cx="628.7" cy="386" r="1.2" fill="#e8d210" />
<circle cx="583.7" cy="391.1" r="0.8" fill="#c8b41a" />
<circle cx="624.3" cy="407.5" r="1" fill="#c8b41a" />
<circle cx="654.3" cy="398.7" r="0.8" fill="#c8b41a" />
<circle cx="627.8" cy="373.1" r="0.8" fill="#c8b41a" />
<circle cx="610.2" cy="377.2" r="0.7" fill="#c8b41a" />
<circle cx="643.7" cy="349.3" r="0.6" fill="#7a6c10" />
<circle cx="659.6" cy="358.7" r="0.6" fill="#7a6c10" />
<circle cx="653.4" cy="358.7" r="0.5" fill="#7a6c10" />
<circle cx="596.1" cy="379.3" r="0.6" fill="#7a6c10" />
<circle cx="632.2" cy="367.5" r="0.5" fill="#7a6c10" />
<circle cx="626.9" cy="401.4" r="0.6" fill="#7a6c10" />
<circle cx="630.5" cy="412.3" r="0.6" fill="#c8b41a" />
<circle cx="604.9" cy="415.5" r="0.6" fill="#7a6c10" />
<circle cx="664.9" cy="416.3" r="0.6" fill="#c8b41a" />
<circle cx="634.9" cy="425.2" r="0.7" fill="#c8b41a" />
<circle cx="594.3" cy="363.4" r="0.5" fill="#7a6c10" />
<circle cx="619.9" cy="362.9" r="0.5" fill="#7a6c10" />
<circle cx="653.4" cy="383.7" r="0.6" fill="#7a6c10" />
<circle cx="661.3" cy="387.2" r="0.5" fill="#7a6c10" />
<circle cx="654.3" cy="390.4" r="0.7" fill="#b81eb8" stroke="#d02ad0" stroke-width="0.7"/>
</g>
<clipPath id="c580336"><rect x="580.2" y="336.1" width="99.6" height="99.6"/></clipPath>
<text x="583.9" y="430.9" font-family="Liberation Sans, sans-serif" font-size="11.2" font-weight="bold" font-style="normal" text-anchor="start" fill="#fff" textLength="33.1" lengthAdjust="spacingAndGlyphs" >DoxPt</text>
<line x1="669.2" y1="428.3" x2="675.1" y2="428.3" stroke="#a8a8a8" stroke-width="1.2" />
<text x="-0.5" y="469.6" font-family="Liberation Sans, sans-serif" font-size="14" font-weight="bold" font-style="normal" text-anchor="start" fill="#000" >g</text>
<text x="44.6" y="473.8" font-family="Liberation Sans, sans-serif" font-size="10.5" font-weight="normal" font-style="normal" text-anchor="start" fill="#000" textLength="35" lengthAdjust="spacingAndGlyphs" >2.0×10</text>
<text x="80.4" y="470" font-family="Liberation Sans, sans-serif" font-size="7.8" font-weight="normal" font-style="normal" text-anchor="start" fill="#000" >5</text>
<text x="23.5" y="490.5" font-family="Liberation Sans, sans-serif" font-size="10.5" font-weight="normal" font-style="normal" text-anchor="start" fill="#000" textLength="83.5" lengthAdjust="spacingAndGlyphs" >AKPS-TdT cells</text>
<text x="115.9" y="487.1" font-family="Liberation Sans, sans-serif" font-size="10.8" font-weight="normal" font-style="normal" text-anchor="start" fill="#000" textLength="36.7" lengthAdjust="spacingAndGlyphs" >3 Days</text>
<text x="171.7" y="487.1" font-family="Liberation Sans, sans-serif" font-size="10.8" font-weight="normal" font-style="normal" text-anchor="start" fill="#000" textLength="30" lengthAdjust="spacingAndGlyphs" >Day 1</text>
<text x="161.8" y="500.3" font-family="Liberation Sans, sans-serif" font-size="10.8" font-weight="normal" font-style="normal" text-anchor="start" fill="#000" textLength="50.8" lengthAdjust="spacingAndGlyphs" >1.0 mg/kg</text>
<text x="179.2" y="471.5" font-family="Liberation Sans, sans-serif" font-size="10.8" font-weight="bold" font-style="italic" text-anchor="start" fill="#000" textLength="103.5" lengthAdjust="spacingAndGlyphs" >treatment regimen</text>
<text x="238.3" y="486.7" font-family="Liberation Sans, sans-serif" font-size="10.8" font-weight="normal" font-style="normal" text-anchor="start" fill="#000" textLength="62" lengthAdjust="spacingAndGlyphs" >From Day 8</text>
<text x="228.3" y="499.6" font-family="Liberation Sans, sans-serif" font-size="10.8" font-weight="normal" font-style="normal" text-anchor="start" fill="#000" textLength="83.2" lengthAdjust="spacingAndGlyphs" >0.5 mg/kg/week</text>
<text x="175.6" y="540.6" font-family="Liberation Sans, sans-serif" font-size="10.8" font-weight="normal" font-style="italic" text-anchor="start" fill="#000" textLength="123" lengthAdjust="spacingAndGlyphs" >intraperitoneal injection</text>
<path d="M112.9,510.3 L147.4,510.3 L147.4,504.4 L160.1,516.9 L147.4,529.4 L147.4,523.2 L112.9,523.2 Z" fill="#fff" stroke="#000" stroke-width="1.1" stroke-linejoin="miter"/>
<path d="M160.1,510.3 L209.5,510.3 L209.5,504.4 L221.8,516.9 L209.5,529.4 L209.5,523.2 L160.1,523.2 Z" fill="#fff" stroke="#000" stroke-width="1.1" stroke-linejoin="miter"/>
<path d="M222.2,510.5 L311,510.5 L311,504.2 L323.9,516.9 L311,529.6 L311,523.2 L222.2,523.2 Z" fill="#fff" stroke="#000" stroke-width="1.1" stroke-linejoin="miter"/>
<path d="M19.6,521.4 C20.8,518 23.5,512.5 27,509.6 C29.5,507.5 32,506 33.9,504.3 C34.4,502.5 35,500.6 36.2,499.7 C37.6,499.1 39.3,499.4 39.7,500.6 C40,502 38.6,504.3 38.3,505.6 C39.2,506.5 40.2,506.9 41.5,506.7 C47.5,505.8 53.5,504 59.5,503.1 C63,502.7 66,502.6 68.2,503.3 C71.5,504.4 74.8,507.6 77.6,511.1 C80.2,514.3 82.2,519 82.7,523.5 C83,526 82.8,528 82.3,529.5 L82.4,533 C79.5,533.3 76,533.4 73.7,533.4 C70,533.6 66.5,534 64.2,534.4 C63,535.2 61.5,536.8 59.8,537.2 C58.3,537.3 57.6,536.2 58.6,535.3 C57.5,535 56.5,534.5 55.5,533.8 C53,533.3 50.5,532.9 48.3,532.8 C46,533.5 44,534 42.5,534.1 C40,534.5 37,534.9 35.3,534.6 C34.5,533.9 34.8,532.8 35.8,532.4 C37.8,532 40,531.8 41.9,531.6 C42.5,530.8 42.7,529.8 42.5,529.3 C42.3,528 41.9,526.8 41.4,526.1 C40,525.3 38.8,524.8 37.9,524.7 C35,525 31.5,525.5 28.8,525.4 C26,525.2 23.5,524.8 21.9,524.2 C20.8,523.6 20,522.6 19.6,521.4 Z" fill="#fff" stroke="#3e2f20" stroke-width="1.2" stroke-linejoin="round"/>
<path d="M82.3,529.5 C85,531.5 90,532.8 96,532.8 C101,532.8 105,531 107.2,528.6 C108.5,527 107.8,525.7 106,525.5 M82.4,533 C86,535 92,536.4 99,536.5 C104,536.4 108,534.5 109.8,531 C110.8,528.5 110,526.3 108,525.3 C106.5,524.8 104.5,525 102.5,525.2" fill="none" stroke="#3e2f20" stroke-width="1.0" stroke-linecap="round"/>
<path d="M91.7,525.9 C95,525.3 100,525.1 106,525.4" fill="none" stroke="#3e2f20" stroke-width="1.5" stroke-linecap="round"/>
<circle cx="29.9" cy="516.6" r="1.7" fill="#111" />
<circle cx="20.1" cy="521.5" r="1.15" fill="#d98a4a" />
<path d="M21.3,520.9 L26.5,519.2 M21.4,521.8 L24.4,522.7" stroke="#1a1a1a" stroke-width="0.7" fill="none"/>
<path d="M67.1,507.8 C66,508 64.8,508.5 64.2,509.3 C63.8,511 64,513.3 64.2,514.9 C61.5,515.2 58.5,516.2 56.6,517.3 C55.6,519 55.4,521 55.7,522.5 C57.5,525.2 60,527.6 62.3,529.2 C64.5,530 67,530.3 69,530.1 C72,529.8 75.5,529.2 78,528.7 C78.2,525.5 78,521.5 77.5,518.7 C75.8,516 73.8,513.5 71.8,511.6 C70.3,510.2 68.8,508.8 67.1,507.8 Z" fill="#f4f5ea" stroke="#6f7236" stroke-width="1.25"/>
<path d="M66.3,512 C64.5,515.5 62,518.3 59.3,520.6 C61.3,523.5 64,526 67,527.4 C70,527.1 73,526.6 75.2,526 C75.2,523 74.6,520 73.6,518 C71.6,515.8 69,513.5 66.3,512 Z" fill="#c8caa4" stroke="#6f7236" stroke-width="1.0"/>
<path d="M63,520.5 C65,518 67.5,517 70,518.3 C72,520 71.5,523 69,524 C67,524.6 65,523.5 65.5,521.5 C66.5,520 68.5,520.2 69,521.5 M66,515.5 C68,516 70,515.6 71.8,517.5 M62.5,523 C64,525 66,526 68.5,525.8 M71,525 C72.5,523.5 73.5,521.5 72.8,519.5" fill="none" stroke="#5f622c" stroke-width="0.8"/>
<g transform="translate(56.4,527.7) rotate(139)"><line x1="0" y1="0" x2="6.5" y2="0" stroke="#1a1a2a" stroke-width="0.8"/><rect x="6.5" y="-2.3" width="19.5" height="4.6" rx="0.6" fill="#fff" stroke="#151522" stroke-width="1.1"/><rect x="8.2" y="-1.3" width="5.8" height="2.6" fill="#ee8a3c" stroke="#6a3a1a" stroke-width="0.4"/><rect x="15" y="-1.5" width="10" height="3" fill="#1c2240"/><line x1="17" y1="-1.2" x2="17" y2="1.2" stroke="#fff" stroke-width="0.5"/><line x1="19.5" y1="-1.2" x2="19.5" y2="1.2" stroke="#fff" stroke-width="0.5"/><line x1="22" y1="-1.2" x2="22" y2="1.2" stroke="#fff" stroke-width="0.5"/><rect x="26" y="-3.9" width="1.6" height="7.8" fill="#fff" stroke="#151522" stroke-width="0.9"/><rect x="27.6" y="-0.9" width="9" height="1.8" fill="#fff" stroke="#151522" stroke-width="0.8"/><rect x="36.6" y="-3.1" width="2" height="6.2" rx="0.8" fill="#fff" stroke="#151522" stroke-width="1"/></g>
<line x1="377.7" y1="460.2" x2="377.7" y2="546.4" stroke="#7a7a7a" stroke-width="1.5" />
<line x1="372.4" y1="542" x2="377.7" y2="542" stroke="#7a7a7a" stroke-width="1.3" />
<text x="370.6" y="545.4" font-family="Liberation Sans, sans-serif" font-size="9.4" font-weight="bold" font-style="normal" text-anchor="end" fill="#000" >0</text>
<line x1="375.2" y1="534.61" x2="377.7" y2="534.61" stroke="#7a7a7a" stroke-width="1.2" />
<line x1="372.4" y1="527.21" x2="377.7" y2="527.21" stroke="#7a7a7a" stroke-width="1.3" />
<text x="370.6" y="530.61" font-family="Liberation Sans, sans-serif" font-size="9.4" font-weight="bold" font-style="normal" text-anchor="end" fill="#000" >20</text>
<line x1="375.2" y1="519.82" x2="377.7" y2="519.82" stroke="#7a7a7a" stroke-width="1.2" />
<line x1="372.4" y1="512.42" x2="377.7" y2="512.42" stroke="#7a7a7a" stroke-width="1.3" />
<text x="370.6" y="515.82" font-family="Liberation Sans, sans-serif" font-size="9.4" font-weight="bold" font-style="normal" text-anchor="end" fill="#000" >40</text>
<line x1="375.2" y1="505.02" x2="377.7" y2="505.02" stroke="#7a7a7a" stroke-width="1.2" />
<line x1="372.4" y1="497.63" x2="377.7" y2="497.63" stroke="#7a7a7a" stroke-width="1.3" />
<text x="370.6" y="501.03" font-family="Liberation Sans, sans-serif" font-size="9.4" font-weight="bold" font-style="normal" text-anchor="end" fill="#000" >60</text>
<line x1="375.2" y1="490.24" x2="377.7" y2="490.24" stroke="#7a7a7a" stroke-width="1.2" />
<line x1="372.4" y1="482.84" x2="377.7" y2="482.84" stroke="#7a7a7a" stroke-width="1.3" />
<text x="370.6" y="486.24" font-family="Liberation Sans, sans-serif" font-size="9.4" font-weight="bold" font-style="normal" text-anchor="end" fill="#000" >80</text>
<line x1="375.2" y1="475.44" x2="377.7" y2="475.44" stroke="#7a7a7a" stroke-width="1.2" />
<line x1="372.4" y1="468.05" x2="377.7" y2="468.05" stroke="#7a7a7a" stroke-width="1.3" />
<text x="370.6" y="471.45" font-family="Liberation Sans, sans-serif" font-size="9.4" font-weight="bold" font-style="normal" text-anchor="end" fill="#000" >100</text>
<line x1="377.1" y1="542" x2="524.07" y2="542" stroke="#555" stroke-width="1.4" />
<line x1="377.7" y1="542" x2="377.7" y2="547" stroke="#555" stroke-width="1.3" />
<text x="377.7" y="554.7" font-family="Liberation Sans, sans-serif" font-size="9.3" font-weight="bold" font-style="normal" text-anchor="middle" fill="#000" >0</text>
<line x1="386.64" y1="542" x2="386.64" y2="545" stroke="#555" stroke-width="1.2" />
<line x1="395.58" y1="542" x2="395.58" y2="545" stroke="#555" stroke-width="1.2" />
<line x1="404.52" y1="542" x2="404.52" y2="545" stroke="#555" stroke-width="1.2" />
<line x1="413.45" y1="542" x2="413.45" y2="545" stroke="#555" stroke-width="1.2" />
<line x1="422.39" y1="542" x2="422.39" y2="547" stroke="#555" stroke-width="1.3" />
<text x="422.39" y="554.7" font-family="Liberation Sans, sans-serif" font-size="9.3" font-weight="bold" font-style="normal" text-anchor="middle" fill="#000" >20</text>
<line x1="431.33" y1="542" x2="431.33" y2="545" stroke="#555" stroke-width="1.2" />
<line x1="440.27" y1="542" x2="440.27" y2="545" stroke="#555" stroke-width="1.2" />
<line x1="449.21" y1="542" x2="449.21" y2="545" stroke="#555" stroke-width="1.2" />
<line x1="458.15" y1="542" x2="458.15" y2="545" stroke="#555" stroke-width="1.2" />
<line x1="467.08" y1="542" x2="467.08" y2="547" stroke="#555" stroke-width="1.3" />
<text x="467.08" y="554.7" font-family="Liberation Sans, sans-serif" font-size="9.3" font-weight="bold" font-style="normal" text-anchor="middle" fill="#000" >40</text>
<line x1="476.02" y1="542" x2="476.02" y2="545" stroke="#555" stroke-width="1.2" />
<line x1="484.96" y1="542" x2="484.96" y2="545" stroke="#555" stroke-width="1.2" />
<line x1="493.9" y1="542" x2="493.9" y2="545" stroke="#555" stroke-width="1.2" />
<line x1="502.84" y1="542" x2="502.84" y2="545" stroke="#555" stroke-width="1.2" />
<line x1="511.78" y1="542" x2="511.78" y2="547" stroke="#555" stroke-width="1.3" />
<text x="511.78" y="554.7" font-family="Liberation Sans, sans-serif" font-size="9.3" font-weight="bold" font-style="normal" text-anchor="middle" fill="#000" >60</text>
<line x1="520.71" y1="542" x2="520.71" y2="545" stroke="#555" stroke-width="1.2" />
<text x="0" y="0" font-family="Liberation Sans, sans-serif" font-size="9.5" font-weight="bold" font-style="normal" text-anchor="middle" fill="#000" textLength="48" lengthAdjust="spacingAndGlyphs" transform="translate(348.7,502) rotate(-90)">% survival</text>
<text x="449.8" y="565.4" font-family="Liberation Sans, sans-serif" font-size="9.5" font-weight="bold" font-style="normal" text-anchor="middle" fill="#000" textLength="103.5" lengthAdjust="spacingAndGlyphs" >days after engraftment</text>
<polyline points="377.7,468.05 430.8,468.05 430.8,475.44 442.2,475.44 442.2,490.24 444.1,490.24 444.1,505.02 462.1,505.02 462.1,512.42 466.4,512.42 466.4,519.82 473.1,519.82 473.1,527.21 484.3,527.21 484.3,534.61 513,534.61 513,542" fill="none" stroke="#f01414" stroke-width="1.7" stroke-linejoin="round" stroke-linejoin="miter"/>
<polyline points="377.7,468.05 421.8,468.05 421.8,475.44 424.1,475.44 424.1,490.24 426.3,490.24 426.3,505.02 428.4,505.02 428.4,519.82 439.7,519.82 439.7,527.21 441.6,527.21 441.6,534.61 453.2,534.61 453.2,542" fill="none" stroke="#111" stroke-width="1.7" stroke-linejoin="round" stroke-linejoin="miter"/>
<polygon points="454,466.2 454.71,467.93 456.57,468.07 455.14,469.27 455.59,471.08 454,470.1 452.41,471.08 452.86,469.27 451.43,468.07 453.29,467.93" fill="#000"/>
<polygon points="459.4,466.2 460.11,467.93 461.97,468.07 460.54,469.27 460.99,471.08 459.4,470.1 457.81,471.08 458.26,469.27 456.83,468.07 458.69,467.93" fill="#000"/>
<polygon points="464.8,466.2 465.51,467.93 467.37,468.07 465.94,469.27 466.39,471.08 464.8,470.1 463.21,471.08 463.66,469.27 462.23,468.07 464.09,467.93" fill="#000"/>
<line x1="461.5" y1="478.6" x2="476" y2="478.6" stroke="#111" stroke-width="1.7" />
<line x1="461.5" y1="491.1" x2="476" y2="491.1" stroke="#f01414" stroke-width="1.7" />
<text x="484.6" y="481.9" font-family="Liberation Sans, sans-serif" font-size="9.8" font-weight="normal" font-style="normal" text-anchor="start" fill="#000" textLength="29.5" lengthAdjust="spacingAndGlyphs" >vehicle</text>
<text x="484.6" y="494.5" font-family="Liberation Sans, sans-serif" font-size="9.8" font-weight="normal" font-style="normal" text-anchor="start" fill="#000" textLength="26.2" lengthAdjust="spacingAndGlyphs" >DoxPt</text>
<text x="526" y="470.3" font-family="Liberation Sans, sans-serif" font-size="14" font-weight="bold" font-style="normal" text-anchor="start" fill="#000" >h</text>
<line x1="586.9" y1="462.2" x2="586.9" y2="549.2" stroke="#6a6a6a" stroke-width="1.4" />
<line x1="584.3" y1="462.7" x2="586.9" y2="462.7" stroke="#6a6a6a" stroke-width="1.2" />
<text x="580.6" y="466.2" font-family="Liberation Sans, sans-serif" font-size="9.8" font-weight="bold" font-style="normal" text-anchor="end" fill="#000" >1.5</text>
<line x1="584.3" y1="491.33" x2="586.9" y2="491.33" stroke="#6a6a6a" stroke-width="1.2" />
<text x="580.6" y="494.83" font-family="Liberation Sans, sans-serif" font-size="9.8" font-weight="bold" font-style="normal" text-anchor="end" fill="#000" >1.0</text>
<line x1="584.3" y1="519.97" x2="586.9" y2="519.97" stroke="#6a6a6a" stroke-width="1.2" />
<text x="580.6" y="523.47" font-family="Liberation Sans, sans-serif" font-size="9.8" font-weight="bold" font-style="normal" text-anchor="end" fill="#000" >0.5</text>
<line x1="584.3" y1="548.6" x2="586.9" y2="548.6" stroke="#6a6a6a" stroke-width="1.2" />
<text x="580.6" y="552.1" font-family="Liberation Sans, sans-serif" font-size="9.8" font-weight="bold" font-style="normal" text-anchor="end" fill="#000" >0.0</text>
<line x1="586.3" y1="548.6" x2="679.6" y2="548.6" stroke="#333" stroke-width="1.3" />
<line x1="613.3" y1="548.6" x2="613.3" y2="551.5" stroke="#333" stroke-width="1.2" />
<line x1="653" y1="548.6" x2="653" y2="551.5" stroke="#333" stroke-width="1.2" />
<text x="613.2" y="564.1" font-family="Liberation Sans, sans-serif" font-size="9.2" font-weight="bold" font-style="normal" text-anchor="middle" fill="#000" textLength="43.2" lengthAdjust="spacingAndGlyphs" >untreated</text>
<text x="653.2" y="564.1" font-family="Liberation Sans, sans-serif" font-size="9.2" font-weight="bold" font-style="normal" text-anchor="middle" fill="#000" textLength="27.5" lengthAdjust="spacingAndGlyphs" >DoxPt</text>
<text x="0" y="0" font-family="Liberation Sans, sans-serif" font-size="9.2" font-weight="bold" font-style="normal" text-anchor="middle" fill="#000" textLength="84.6" lengthAdjust="spacingAndGlyphs" transform="translate(556.2,505.8) rotate(-90)">Tumour weight (g)</text>
<polyline points="613.3,482 613.3,473.4 653,473.4 653,521.8" fill="none" stroke="#111" stroke-width="1.2" stroke-linejoin="round" stroke-linejoin="miter"/>
<line x1="628.9" y1="461.8" x2="628.9" y2="467.6" stroke="#000" stroke-width="1.3" stroke-linecap="round"/>
<line x1="626.39" y1="463.25" x2="631.41" y2="466.15" stroke="#000" stroke-width="1.3" stroke-linecap="round"/>
<line x1="631.41" y1="463.25" x2="626.39" y2="466.15" stroke="#000" stroke-width="1.3" stroke-linecap="round"/>
<circle cx="628.9" cy="464.7" r="1.1" fill="#000" />
<line x1="637.1" y1="461.8" x2="637.1" y2="467.6" stroke="#000" stroke-width="1.3" stroke-linecap="round"/>
<line x1="634.59" y1="463.25" x2="639.61" y2="466.15" stroke="#000" stroke-width="1.3" stroke-linecap="round"/>
<line x1="639.61" y1="463.25" x2="634.59" y2="466.15" stroke="#000" stroke-width="1.3" stroke-linecap="round"/>
<circle cx="637.1" cy="464.7" r="1.1" fill="#000" />
<circle cx="613.3" cy="489.8" r="1.45" fill="#111" />
<circle cx="613.3" cy="497.2" r="1.45" fill="#111" />
<circle cx="613.3" cy="503.5" r="1.45" fill="#111" />
<circle cx="613.3" cy="509.6" r="1.45" fill="#111" />
<circle cx="613.3" cy="522.9" r="1.45" fill="#111" />
<circle cx="613.3" cy="528.3" r="1.45" fill="#111" />
<circle cx="613.3" cy="535.8" r="1.45" fill="#111" />
<circle cx="610.3" cy="548.2" r="1.45" fill="#111" />
<circle cx="616.1" cy="548.2" r="1.45" fill="#111" />
<line x1="600.2" y1="520.6" x2="625.9" y2="520.6" stroke="#111" stroke-width="1.3" />
<line x1="606.8" y1="513.6" x2="619.6" y2="513.6" stroke="#111" stroke-width="1.3" />
<line x1="606.8" y1="528.3" x2="619.6" y2="528.3" stroke="#111" stroke-width="1.3" />
<line x1="613.3" y1="513.6" x2="613.3" y2="528.3" stroke="#111" stroke-width="1.3" />
<circle cx="652.3" cy="530.6" r="1.45" fill="#f01414" />
<circle cx="652.3" cy="538.6" r="1.45" fill="#f01414" />
<circle cx="646.5" cy="542.8" r="1.45" fill="#f01414" />
<circle cx="658.1" cy="542.8" r="1.45" fill="#f01414" />
<circle cx="641.1" cy="547" r="1.45" fill="#f01414" />
<circle cx="648.1" cy="546.3" r="1.45" fill="#f01414" />
<circle cx="653" cy="546.3" r="1.45" fill="#f01414" />
<circle cx="664.7" cy="547.5" r="1.45" fill="#f01414" />
<circle cx="654.6" cy="540.9" r="1.45" fill="#f01414" />
<line x1="640.6" y1="542.8" x2="665.9" y2="542.8" stroke="#f01414" stroke-width="1.3" />
<line x1="647" y1="540.4" x2="659" y2="540.4" stroke="#f01414" stroke-width="1.1" />
<line x1="647" y1="545" x2="659" y2="545" stroke="#f01414" stroke-width="1.1" />
</svg>
</body></html>
